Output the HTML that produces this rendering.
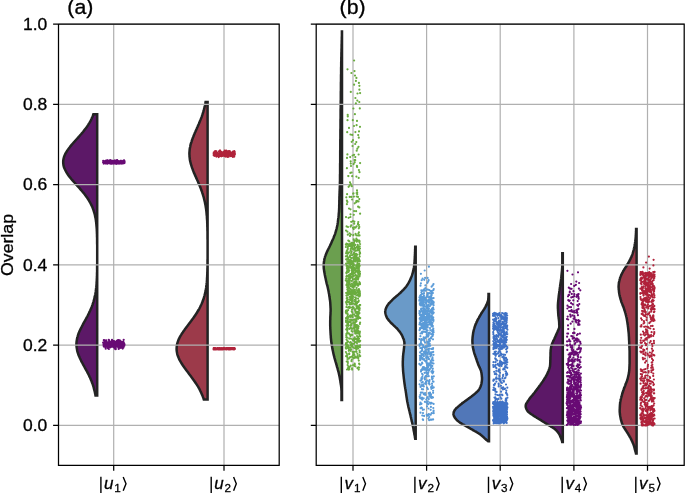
<!DOCTYPE html><html><head><meta charset="utf-8"><style>html,body{margin:0;padding:0;background:#fff}svg{display:block}</style></head><body><svg width="685" height="493" viewBox="0 0 685 493">
<rect width="685" height="493" fill="#fff"/>
<g stroke="#232323" stroke-width="2.5" stroke-linejoin="miter">
<path fill="#5c1867" d="M97.2,395.4 L95.5,395.4 L95.3,394.3 L95.0,393.1 L94.8,391.9 L94.5,390.7 L94.2,389.6 L93.9,388.4 L93.6,387.2 L93.2,386.0 L92.9,384.9 L92.5,383.7 L92.0,382.5 L91.6,381.3 L91.1,380.2 L90.6,379.0 L90.1,377.8 L89.5,376.6 L89.0,375.5 L88.4,374.3 L87.8,373.1 L87.2,371.9 L86.5,370.7 L85.9,369.6 L85.2,368.4 L84.6,367.2 L84.0,366.0 L83.3,364.9 L82.7,363.7 L82.1,362.5 L81.4,361.3 L80.9,360.2 L80.3,359.0 L79.7,357.8 L79.2,356.6 L78.7,355.5 L78.3,354.3 L77.9,353.1 L77.5,351.9 L77.2,350.7 L77.0,349.6 L76.8,348.4 L76.6,347.2 L76.5,346.0 L76.4,344.9 L76.4,343.7 L76.5,342.5 L76.6,341.3 L76.8,340.2 L77.0,339.0 L77.2,337.8 L77.6,336.6 L77.9,335.5 L78.3,334.3 L78.8,333.1 L79.2,331.9 L79.7,330.8 L80.3,329.6 L80.9,328.4 L81.5,327.2 L82.1,326.0 L82.7,324.9 L83.3,323.7 L84.0,322.5 L84.6,321.3 L85.3,320.2 L85.9,319.0 L86.5,317.8 L87.2,316.6 L87.8,315.5 L88.4,314.3 L89.0,313.1 L89.5,311.9 L90.1,310.8 L90.6,309.6 L91.1,308.4 L91.6,307.2 L92.0,306.1 L92.5,304.9 L92.9,303.7 L93.2,302.5 L93.6,301.3 L93.9,300.2 L94.3,299.0 L94.5,297.8 L94.8,296.6 L95.0,295.5 L95.3,294.3 L95.5,293.1 L95.7,291.9 L95.8,290.8 L96.0,289.6 L96.1,288.4 L96.3,287.2 L96.4,286.1 L96.5,284.9 L96.6,283.7 L96.6,282.5 L96.7,281.3 L96.8,280.2 L96.8,279.0 L96.9,277.8 L96.9,276.6 L97.0,275.5 L97.0,274.3 L97.0,273.1 L97.1,271.9 L97.1,270.8 L97.1,269.6 L97.1,268.4 L97.1,267.2 L97.1,266.1 L97.1,264.9 L97.2,263.7 L97.2,262.5 L97.2,261.4 L97.2,260.2 L97.2,259.0 L97.2,257.8 L97.2,256.6 L97.2,255.5 L97.2,254.3 L97.2,253.1 L97.2,251.9 L97.2,250.8 L97.2,249.6 L97.2,248.4 L97.2,247.2 L97.2,246.1 L97.2,244.9 L97.1,243.7 L97.1,242.5 L97.1,241.4 L97.1,240.2 L97.1,239.0 L97.1,237.8 L97.0,236.7 L97.0,235.5 L97.0,234.3 L96.9,233.1 L96.9,231.9 L96.8,230.8 L96.8,229.6 L96.7,228.4 L96.6,227.2 L96.5,226.1 L96.4,224.9 L96.3,223.7 L96.2,222.5 L96.0,221.4 L95.9,220.2 L95.7,219.0 L95.5,217.8 L95.2,216.7 L95.0,215.5 L94.7,214.3 L94.4,213.1 L94.0,211.9 L93.7,210.8 L93.3,209.6 L92.8,208.4 L92.4,207.2 L91.9,206.1 L91.3,204.9 L90.7,203.7 L90.1,202.5 L89.4,201.4 L88.7,200.2 L88.0,199.0 L87.2,197.8 L86.4,196.7 L85.5,195.5 L84.6,194.3 L83.7,193.1 L82.7,192.0 L81.7,190.8 L80.7,189.6 L79.7,188.4 L78.6,187.2 L77.6,186.1 L76.5,184.9 L75.5,183.7 L74.4,182.5 L73.4,181.4 L72.3,180.2 L71.3,179.0 L70.4,177.8 L69.4,176.7 L68.5,175.5 L67.7,174.3 L66.9,173.1 L66.2,172.0 L65.6,170.8 L65.0,169.6 L64.5,168.4 L64.0,167.3 L63.7,166.1 L63.4,164.9 L63.3,163.7 L63.2,162.5 L63.2,161.4 L63.3,160.2 L63.5,159.0 L63.8,157.8 L64.1,156.7 L64.6,155.5 L65.1,154.3 L65.7,153.1 L66.4,152.0 L67.1,150.8 L67.9,149.6 L68.8,148.4 L69.7,147.3 L70.6,146.1 L71.6,144.9 L72.6,143.7 L73.6,142.5 L74.7,141.4 L75.7,140.2 L76.8,139.0 L77.9,137.8 L78.9,136.7 L79.9,135.5 L81.0,134.3 L82.0,133.1 L83.0,132.0 L83.9,130.8 L84.8,129.6 L85.7,128.4 L86.6,127.3 L87.4,126.1 L88.2,124.9 L88.9,123.7 L89.6,122.6 L90.3,121.4 L90.9,120.2 L91.5,119.0 L92.0,117.8 L92.5,116.7 L93.0,115.5 L93.4,114.3 L97.2,114.3Z"/>
<path fill="#9c3a4a" d="M207.6,399.4 L203.8,399.4 L203.4,398.1 L202.9,396.9 L202.5,395.6 L201.9,394.4 L201.4,393.2 L200.8,391.9 L200.2,390.7 L199.6,389.4 L198.9,388.2 L198.2,386.9 L197.4,385.7 L196.6,384.4 L195.8,383.2 L195.0,382.0 L194.1,380.7 L193.2,379.5 L192.3,378.2 L191.4,377.0 L190.5,375.7 L189.5,374.5 L188.6,373.2 L187.7,372.0 L186.7,370.8 L185.8,369.5 L184.9,368.3 L184.0,367.0 L183.1,365.8 L182.3,364.5 L181.5,363.3 L180.8,362.0 L180.1,360.8 L179.4,359.6 L178.8,358.3 L178.3,357.1 L177.8,355.8 L177.4,354.6 L177.1,353.3 L176.9,352.1 L176.7,350.8 L176.6,349.6 L176.6,348.4 L176.7,347.1 L176.8,345.9 L177.0,344.6 L177.3,343.4 L177.7,342.1 L178.1,340.9 L178.6,339.6 L179.2,338.4 L179.8,337.1 L180.5,335.9 L181.3,334.7 L182.0,333.4 L182.9,332.2 L183.7,330.9 L184.6,329.7 L185.5,328.4 L186.4,327.2 L187.4,325.9 L188.3,324.7 L189.2,323.5 L190.2,322.2 L191.1,321.0 L192.0,319.7 L193.0,318.5 L193.9,317.2 L194.7,316.0 L195.6,314.7 L196.4,313.5 L197.2,312.3 L197.9,311.0 L198.7,309.8 L199.4,308.5 L200.0,307.3 L200.6,306.0 L201.2,304.8 L201.8,303.5 L202.3,302.3 L202.8,301.1 L203.2,299.8 L203.7,298.6 L204.0,297.3 L204.4,296.1 L204.7,294.8 L205.0,293.6 L205.3,292.3 L205.6,291.1 L205.8,289.9 L206.0,288.6 L206.2,287.4 L206.3,286.1 L206.5,284.9 L206.6,283.6 L206.8,282.4 L206.9,281.1 L207.0,279.9 L207.0,278.7 L207.1,277.4 L207.2,276.2 L207.2,274.9 L207.3,273.7 L207.3,272.4 L207.4,271.2 L207.4,269.9 L207.4,268.7 L207.5,267.5 L207.5,266.2 L207.5,265.0 L207.5,263.7 L207.5,262.5 L207.5,261.2 L207.5,260.0 L207.6,258.7 L207.6,257.5 L207.6,256.3 L207.6,255.0 L207.6,253.8 L207.6,252.5 L207.6,251.3 L207.6,250.0 L207.6,248.8 L207.6,247.5 L207.6,246.3 L207.6,245.1 L207.6,243.8 L207.6,242.6 L207.6,241.3 L207.6,240.1 L207.5,238.8 L207.5,237.6 L207.5,236.3 L207.5,235.1 L207.5,233.9 L207.5,232.6 L207.5,231.4 L207.4,230.1 L207.4,228.9 L207.4,227.6 L207.3,226.4 L207.3,225.1 L207.3,223.9 L207.2,222.7 L207.2,221.4 L207.1,220.2 L207.0,218.9 L206.9,217.7 L206.9,216.4 L206.7,215.2 L206.6,213.9 L206.5,212.7 L206.4,211.5 L206.2,210.2 L206.1,209.0 L205.9,207.7 L205.7,206.5 L205.5,205.2 L205.2,204.0 L205.0,202.7 L204.7,201.5 L204.4,200.3 L204.1,199.0 L203.8,197.8 L203.5,196.5 L203.1,195.3 L202.7,194.0 L202.3,192.8 L201.9,191.5 L201.4,190.3 L201.0,189.1 L200.5,187.8 L200.0,186.6 L199.5,185.3 L198.9,184.1 L198.4,182.8 L197.9,181.6 L197.3,180.3 L196.8,179.1 L196.2,177.9 L195.7,176.6 L195.1,175.4 L194.6,174.1 L194.0,172.9 L193.5,171.6 L193.0,170.4 L192.6,169.1 L192.1,167.9 L191.7,166.7 L191.3,165.4 L190.9,164.2 L190.6,162.9 L190.3,161.7 L190.0,160.4 L189.8,159.2 L189.7,157.9 L189.5,156.7 L189.5,155.5 L189.4,154.2 L189.4,153.0 L189.5,151.7 L189.6,150.5 L189.7,149.2 L189.9,148.0 L190.2,146.7 L190.4,145.5 L190.7,144.2 L191.1,143.0 L191.5,141.8 L191.9,140.5 L192.3,139.3 L192.8,138.0 L193.3,136.8 L193.8,135.5 L194.3,134.3 L194.8,133.0 L195.4,131.8 L195.9,130.6 L196.5,129.3 L197.0,128.1 L197.6,126.8 L198.1,125.6 L198.7,124.3 L199.2,123.1 L199.7,121.8 L200.2,120.6 L200.7,119.4 L201.2,118.1 L201.7,116.9 L202.1,115.6 L202.5,114.4 L202.9,113.1 L203.3,111.9 L203.6,110.6 L204.0,109.4 L204.3,108.2 L204.6,106.9 L204.9,105.7 L205.1,104.4 L205.4,103.2 L205.6,101.9 L207.6,101.9Z"/>
<path fill="#6b9f4f" d="M342.0,400.1 L341.5,400.1 L341.5,399.1 L341.5,398.2 L341.5,397.3 L341.5,396.4 L341.5,395.4 L341.5,394.5 L341.5,393.6 L341.5,392.7 L341.5,391.7 L341.5,390.8 L341.4,389.9 L341.4,389.0 L341.3,388.0 L341.2,387.1 L341.1,386.2 L341.0,385.3 L340.8,384.3 L340.7,383.4 L340.5,382.5 L340.4,381.6 L340.3,380.7 L340.1,379.7 L339.9,378.8 L339.8,377.9 L339.6,377.0 L339.4,376.0 L339.2,375.1 L339.0,374.2 L338.8,373.3 L338.6,372.3 L338.3,371.4 L338.1,370.5 L337.8,369.6 L337.6,368.6 L337.3,367.7 L337.0,366.8 L336.8,365.9 L336.5,364.9 L336.2,364.0 L336.0,363.1 L335.7,362.2 L335.4,361.3 L335.2,360.3 L334.9,359.4 L334.7,358.5 L334.4,357.6 L334.2,356.6 L333.9,355.7 L333.7,354.8 L333.5,353.9 L333.3,352.9 L333.1,352.0 L332.9,351.1 L332.7,350.2 L332.5,349.2 L332.3,348.3 L332.2,347.4 L332.0,346.5 L331.9,345.5 L331.7,344.6 L331.6,343.7 L331.4,342.8 L331.3,341.8 L331.2,340.9 L331.1,340.0 L331.0,339.1 L330.9,338.2 L330.8,337.2 L330.8,336.3 L330.7,335.4 L330.6,334.5 L330.6,333.5 L330.5,332.6 L330.5,331.7 L330.4,330.8 L330.4,329.8 L330.3,328.9 L330.3,328.0 L330.3,327.1 L330.2,326.1 L330.2,325.2 L330.2,324.3 L330.2,323.4 L330.2,322.4 L330.2,321.5 L330.2,320.6 L330.3,319.7 L330.3,318.8 L330.3,317.8 L330.3,316.9 L330.4,316.0 L330.4,315.1 L330.5,314.1 L330.5,313.2 L330.5,312.3 L330.6,311.4 L330.6,310.4 L330.6,309.5 L330.6,308.6 L330.5,307.7 L330.5,306.7 L330.4,305.8 L330.4,304.9 L330.3,304.0 L330.3,303.0 L330.2,302.1 L330.1,301.2 L330.0,300.3 L329.8,299.3 L329.7,298.4 L329.6,297.5 L329.4,296.6 L329.3,295.7 L329.2,294.7 L329.0,293.8 L328.8,292.9 L328.7,292.0 L328.5,291.0 L328.3,290.1 L328.1,289.2 L327.9,288.3 L327.7,287.3 L327.5,286.4 L327.2,285.5 L327.0,284.6 L326.7,283.6 L326.5,282.7 L326.3,281.8 L326.1,280.9 L325.9,279.9 L325.7,279.0 L325.5,278.1 L325.3,277.2 L325.1,276.3 L324.9,275.3 L324.7,274.4 L324.6,273.5 L324.4,272.6 L324.2,271.6 L324.1,270.7 L324.0,269.8 L323.8,268.9 L323.8,267.9 L323.7,267.0 L323.7,266.1 L323.7,265.2 L323.7,264.2 L323.8,263.3 L323.9,262.4 L324.0,261.5 L324.2,260.5 L324.3,259.6 L324.5,258.7 L324.8,257.8 L325.0,256.8 L325.4,255.9 L325.7,255.0 L326.1,254.1 L326.4,253.2 L326.8,252.2 L327.2,251.3 L327.7,250.4 L328.1,249.5 L328.6,248.5 L329.1,247.6 L329.5,246.7 L330.0,245.8 L330.4,244.8 L330.9,243.9 L331.3,243.0 L331.7,242.1 L332.1,241.1 L332.5,240.2 L332.9,239.3 L333.3,238.4 L333.7,237.4 L334.0,236.5 L334.4,235.6 L334.8,234.7 L335.1,233.8 L335.4,232.8 L335.7,231.9 L336.0,231.0 L336.2,230.1 L336.5,229.1 L336.7,228.2 L336.9,227.3 L337.1,226.4 L337.3,225.4 L337.5,224.5 L337.6,223.6 L337.8,222.7 L337.9,221.7 L338.0,220.8 L338.1,219.9 L338.2,219.0 L338.4,218.0 L338.5,217.1 L338.6,216.2 L338.7,215.3 L338.7,214.3 L338.8,213.4 L338.9,212.5 L339.0,211.6 L339.0,210.7 L339.1,209.7 L339.1,208.8 L339.2,207.9 L339.2,207.0 L339.2,206.0 L339.2,205.1 L339.3,204.2 L339.3,203.3 L339.3,202.3 L339.3,201.4 L339.3,200.5 L339.4,199.6 L339.4,198.6 L339.4,197.7 L339.4,196.8 L339.5,195.9 L339.5,194.9 L339.5,194.0 L339.6,193.1 L339.6,192.2 L339.6,191.3 L339.7,190.3 L339.7,189.4 L339.8,188.5 L339.8,187.6 L339.8,186.6 L339.9,185.7 L339.9,184.8 L339.9,183.9 L339.9,182.9 L339.9,182.0 L340.0,181.1 L340.0,180.2 L340.0,179.2 L340.0,178.3 L340.0,177.4 L340.0,176.5 L340.0,175.5 L340.0,174.6 L340.1,173.7 L340.1,172.8 L340.1,171.8 L340.1,170.9 L340.1,170.0 L340.1,169.1 L340.1,168.2 L340.1,167.2 L340.1,166.3 L340.1,165.4 L340.1,164.5 L340.1,163.5 L340.2,162.6 L340.2,161.7 L340.2,160.8 L340.2,159.8 L340.2,158.9 L340.2,158.0 L340.2,157.1 L340.2,156.1 L340.2,155.2 L340.2,154.3 L340.2,153.4 L340.2,152.4 L340.2,151.5 L340.2,150.6 L340.3,149.7 L340.3,148.8 L340.3,147.8 L340.3,146.9 L340.3,146.0 L340.3,145.1 L340.3,144.1 L340.3,143.2 L340.3,142.3 L340.3,141.4 L340.3,140.4 L340.3,139.5 L340.4,138.6 L340.4,137.7 L340.4,136.7 L340.4,135.8 L340.4,134.9 L340.4,134.0 L340.4,133.0 L340.4,132.1 L340.4,131.2 L340.4,130.3 L340.4,129.3 L340.5,128.4 L340.5,127.5 L340.5,126.6 L340.5,125.7 L340.5,124.7 L340.5,123.8 L340.5,122.9 L340.5,122.0 L340.5,121.0 L340.5,120.1 L340.5,119.2 L340.6,118.3 L340.6,117.3 L340.6,116.4 L340.6,115.5 L340.6,114.6 L340.6,113.6 L340.6,112.7 L340.6,111.8 L340.6,110.9 L340.6,109.9 L340.6,109.0 L340.7,108.1 L340.7,107.2 L340.7,106.3 L340.7,105.3 L340.7,104.4 L340.7,103.5 L340.7,102.6 L340.7,101.6 L340.7,100.7 L340.8,99.8 L340.8,98.9 L340.8,97.9 L340.8,97.0 L340.8,96.1 L340.8,95.2 L340.8,94.2 L340.8,93.3 L340.8,92.4 L340.8,91.5 L340.9,90.5 L340.9,89.6 L340.9,88.7 L340.9,87.8 L340.9,86.8 L340.9,85.9 L340.9,85.0 L340.9,84.1 L340.9,83.2 L340.9,82.2 L341.0,81.3 L341.0,80.4 L341.0,79.5 L341.0,78.5 L341.0,77.6 L341.0,76.7 L341.0,75.8 L341.0,74.8 L341.1,73.9 L341.1,73.0 L341.1,72.1 L341.1,71.1 L341.1,70.2 L341.1,69.3 L341.1,68.4 L341.1,67.4 L341.2,66.5 L341.2,65.6 L341.2,64.7 L341.2,63.7 L341.2,62.8 L341.2,61.9 L341.3,61.0 L341.3,60.1 L341.3,59.1 L341.3,58.2 L341.3,57.3 L341.4,56.4 L341.4,55.4 L341.4,54.5 L341.4,53.6 L341.4,52.7 L341.5,51.7 L341.5,50.8 L341.5,49.9 L341.5,49.0 L341.6,48.0 L341.6,47.1 L341.6,46.2 L341.6,45.3 L341.6,44.3 L341.7,43.4 L341.7,42.5 L341.7,41.6 L341.7,40.7 L341.8,39.7 L341.8,38.8 L341.8,37.9 L341.8,37.0 L341.9,36.0 L341.9,35.1 L341.9,34.2 L341.9,33.3 L341.9,32.3 L341.9,31.4 L342.0,31.4Z"/>
<path fill="#6a9ac8" d="M415.7,438.7 L415.2,438.7 L415.1,438.2 L415.0,437.7 L414.9,437.2 L414.9,436.8 L414.8,436.3 L414.7,435.8 L414.6,435.3 L414.5,434.8 L414.4,434.4 L414.3,433.9 L414.3,433.4 L414.2,432.9 L414.1,432.4 L414.0,432.0 L413.9,431.5 L413.8,431.0 L413.7,430.5 L413.6,430.0 L413.5,429.5 L413.5,429.1 L413.4,428.6 L413.3,428.1 L413.2,427.6 L413.1,427.1 L413.0,426.7 L412.9,426.2 L412.8,425.7 L412.7,425.2 L412.6,424.7 L412.5,424.3 L412.4,423.8 L412.3,423.3 L412.2,422.8 L412.1,422.3 L411.9,421.9 L411.8,421.4 L411.7,420.9 L411.6,420.4 L411.5,419.9 L411.4,419.4 L411.3,419.0 L411.2,418.5 L411.1,418.0 L410.9,417.5 L410.8,417.0 L410.7,416.6 L410.6,416.1 L410.5,415.6 L410.4,415.1 L410.3,414.6 L410.2,414.2 L410.0,413.7 L409.9,413.2 L409.8,412.7 L409.7,412.2 L409.6,411.8 L409.5,411.3 L409.4,410.8 L409.2,410.3 L409.1,409.8 L409.0,409.3 L408.9,408.9 L408.8,408.4 L408.6,407.9 L408.5,407.4 L408.4,406.9 L408.3,406.5 L408.2,406.0 L408.1,405.5 L408.0,405.0 L407.9,404.5 L407.8,404.1 L407.7,403.6 L407.6,403.1 L407.5,402.6 L407.4,402.1 L407.3,401.7 L407.2,401.2 L407.1,400.7 L407.1,400.2 L407.0,399.7 L406.9,399.2 L406.8,398.8 L406.8,398.3 L406.7,397.8 L406.6,397.3 L406.5,396.8 L406.5,396.4 L406.4,395.9 L406.3,395.4 L406.3,394.9 L406.2,394.4 L406.1,394.0 L406.1,393.5 L406.0,393.0 L405.9,392.5 L405.8,392.0 L405.8,391.6 L405.7,391.1 L405.6,390.6 L405.5,390.1 L405.5,389.6 L405.4,389.1 L405.3,388.7 L405.2,388.2 L405.1,387.7 L405.1,387.2 L405.0,386.7 L404.9,386.3 L404.8,385.8 L404.8,385.3 L404.7,384.8 L404.6,384.3 L404.6,383.9 L404.5,383.4 L404.4,382.9 L404.4,382.4 L404.3,381.9 L404.2,381.5 L404.2,381.0 L404.1,380.5 L404.1,380.0 L404.0,379.5 L403.9,379.0 L403.9,378.6 L403.8,378.1 L403.8,377.6 L403.7,377.1 L403.7,376.6 L403.6,376.2 L403.6,375.7 L403.5,375.2 L403.5,374.7 L403.4,374.2 L403.4,373.8 L403.3,373.3 L403.3,372.8 L403.2,372.3 L403.2,371.8 L403.1,371.4 L403.1,370.9 L403.1,370.4 L403.0,369.9 L403.0,369.4 L403.0,368.9 L403.0,368.5 L402.9,368.0 L402.9,367.5 L402.9,367.0 L402.9,366.5 L402.8,366.1 L402.8,365.6 L402.8,365.1 L402.8,364.6 L402.8,364.1 L402.8,363.7 L402.8,363.2 L402.8,362.7 L402.8,362.2 L402.8,361.7 L402.8,361.3 L402.8,360.8 L402.9,360.3 L402.9,359.8 L402.9,359.3 L402.9,358.8 L402.9,358.4 L403.0,357.9 L403.0,357.4 L403.0,356.9 L403.0,356.4 L403.1,356.0 L403.1,355.5 L403.2,355.0 L403.2,354.5 L403.3,354.0 L403.3,353.6 L403.4,353.1 L403.5,352.6 L403.5,352.1 L403.6,351.6 L403.7,351.2 L403.7,350.7 L403.8,350.2 L403.8,349.7 L403.9,349.2 L403.9,348.7 L404.0,348.3 L404.0,347.8 L404.1,347.3 L404.1,346.8 L404.2,346.3 L404.2,345.9 L404.3,345.4 L404.3,344.9 L404.3,344.4 L404.4,343.9 L404.4,343.5 L404.4,343.0 L404.4,342.5 L404.3,342.0 L404.2,341.5 L404.2,341.1 L404.0,340.6 L403.9,340.1 L403.8,339.6 L403.6,339.1 L403.4,338.6 L403.2,338.2 L403.0,337.7 L402.8,337.2 L402.6,336.7 L402.4,336.2 L402.2,335.8 L402.0,335.3 L401.7,334.8 L401.4,334.3 L401.1,333.8 L400.8,333.4 L400.5,332.9 L400.2,332.4 L399.8,331.9 L399.4,331.4 L399.0,331.0 L398.6,330.5 L398.3,330.0 L397.8,329.5 L397.4,329.0 L397.0,328.5 L396.5,328.1 L396.1,327.6 L395.5,327.1 L395.0,326.6 L394.5,326.1 L394.0,325.7 L393.4,325.2 L392.9,324.7 L392.4,324.2 L391.9,323.7 L391.4,323.3 L391.0,322.8 L390.5,322.3 L390.1,321.8 L389.7,321.3 L389.2,320.9 L388.8,320.4 L388.4,319.9 L388.0,319.4 L387.7,318.9 L387.3,318.4 L387.0,318.0 L386.8,317.5 L386.6,317.0 L386.4,316.5 L386.2,316.0 L386.0,315.6 L385.9,315.1 L385.7,314.6 L385.6,314.1 L385.5,313.6 L385.4,313.2 L385.3,312.7 L385.3,312.2 L385.2,311.7 L385.2,311.2 L385.3,310.8 L385.4,310.3 L385.5,309.8 L385.6,309.3 L385.8,308.8 L386.0,308.3 L386.2,307.9 L386.4,307.4 L386.6,306.9 L386.9,306.4 L387.1,305.9 L387.4,305.5 L387.7,305.0 L388.1,304.5 L388.4,304.0 L388.8,303.5 L389.3,303.1 L389.7,302.6 L390.2,302.1 L390.6,301.6 L391.1,301.1 L391.6,300.7 L392.1,300.2 L392.6,299.7 L393.1,299.2 L393.6,298.7 L394.1,298.2 L394.6,297.8 L395.2,297.3 L395.7,296.8 L396.3,296.3 L396.9,295.8 L397.4,295.4 L398.0,294.9 L398.6,294.4 L399.1,293.9 L399.6,293.4 L400.2,293.0 L400.7,292.5 L401.2,292.0 L401.6,291.5 L402.1,291.0 L402.6,290.6 L403.1,290.1 L403.5,289.6 L404.0,289.1 L404.4,288.6 L404.9,288.1 L405.3,287.7 L405.7,287.2 L406.1,286.7 L406.4,286.2 L406.8,285.7 L407.1,285.3 L407.4,284.8 L407.7,284.3 L408.0,283.8 L408.3,283.3 L408.6,282.9 L408.9,282.4 L409.1,281.9 L409.4,281.4 L409.6,280.9 L409.9,280.5 L410.1,280.0 L410.3,279.5 L410.5,279.0 L410.7,278.5 L410.9,278.0 L411.1,277.6 L411.3,277.1 L411.5,276.6 L411.7,276.1 L411.8,275.6 L412.0,275.2 L412.2,274.7 L412.3,274.2 L412.5,273.7 L412.6,273.2 L412.8,272.8 L412.9,272.3 L413.0,271.8 L413.1,271.3 L413.2,270.8 L413.3,270.4 L413.4,269.9 L413.6,269.4 L413.6,268.9 L413.7,268.4 L413.8,268.0 L413.9,267.5 L414.0,267.0 L414.1,266.5 L414.1,266.0 L414.2,265.5 L414.3,265.1 L414.3,264.6 L414.4,264.1 L414.4,263.6 L414.4,263.1 L414.5,262.7 L414.5,262.2 L414.6,261.7 L414.6,261.2 L414.6,260.7 L414.6,260.3 L414.7,259.8 L414.7,259.3 L414.7,258.8 L414.8,258.3 L414.8,257.9 L414.8,257.4 L414.8,256.9 L414.8,256.4 L414.9,255.9 L414.9,255.4 L414.9,255.0 L414.9,254.5 L415.0,254.0 L415.0,253.5 L415.0,253.0 L415.0,252.6 L415.0,252.1 L415.1,251.6 L415.1,251.1 L415.1,250.6 L415.1,250.2 L415.1,249.7 L415.1,249.2 L415.2,248.7 L415.2,248.2 L415.2,247.8 L415.2,247.3 L415.2,246.8 L415.7,246.8Z"/>
<path fill="#5177b8" d="M489.0,441.3 L488.2,441.3 L487.8,441.0 L487.4,440.6 L486.9,440.2 L486.4,439.9 L486.0,439.5 L485.5,439.1 L485.1,438.7 L484.7,438.4 L484.4,438.0 L484.0,437.6 L483.6,437.3 L483.2,436.9 L482.8,436.5 L482.4,436.2 L482.0,435.8 L481.6,435.4 L481.1,435.1 L480.6,434.7 L480.1,434.3 L479.6,433.9 L479.0,433.6 L478.4,433.2 L477.8,432.8 L477.2,432.5 L476.6,432.1 L475.9,431.7 L475.3,431.4 L474.6,431.0 L474.0,430.6 L473.3,430.3 L472.7,429.9 L472.1,429.5 L471.4,429.1 L470.8,428.8 L470.1,428.4 L469.5,428.0 L468.8,427.7 L468.2,427.3 L467.5,426.9 L466.8,426.6 L466.2,426.2 L465.5,425.8 L464.9,425.5 L464.2,425.1 L463.6,424.7 L462.9,424.4 L462.2,424.0 L461.6,423.6 L461.0,423.2 L460.4,422.9 L459.8,422.5 L459.3,422.1 L458.9,421.8 L458.4,421.4 L458.0,421.0 L457.5,420.7 L457.1,420.3 L456.7,419.9 L456.4,419.6 L456.0,419.2 L455.7,418.8 L455.4,418.4 L455.1,418.1 L454.9,417.7 L454.6,417.3 L454.5,417.0 L454.3,416.6 L454.1,416.2 L453.9,415.9 L453.8,415.5 L453.7,415.1 L453.6,414.8 L453.5,414.4 L453.4,414.0 L453.4,413.6 L453.5,413.3 L453.6,412.9 L453.7,412.5 L453.8,412.2 L453.9,411.8 L454.1,411.4 L454.3,411.1 L454.4,410.7 L454.6,410.3 L454.9,410.0 L455.1,409.6 L455.4,409.2 L455.7,408.9 L456.1,408.5 L456.4,408.1 L456.8,407.7 L457.2,407.4 L457.7,407.0 L458.1,406.6 L458.5,406.3 L459.0,405.9 L459.4,405.5 L459.8,405.2 L460.3,404.8 L460.7,404.4 L461.2,404.1 L461.7,403.7 L462.1,403.3 L462.6,402.9 L463.1,402.6 L463.6,402.2 L464.1,401.8 L464.7,401.5 L465.2,401.1 L465.7,400.7 L466.2,400.4 L466.7,400.0 L467.2,399.6 L467.7,399.3 L468.2,398.9 L468.7,398.5 L469.2,398.1 L469.7,397.8 L470.2,397.4 L470.7,397.0 L471.2,396.7 L471.7,396.3 L472.2,395.9 L472.7,395.6 L473.1,395.2 L473.6,394.8 L474.0,394.5 L474.4,394.1 L474.9,393.7 L475.3,393.4 L475.7,393.0 L476.2,392.6 L476.6,392.2 L477.0,391.9 L477.3,391.5 L477.7,391.1 L478.0,390.8 L478.4,390.4 L478.6,390.0 L478.9,389.7 L479.1,389.3 L479.4,388.9 L479.6,388.6 L479.8,388.2 L480.0,387.8 L480.1,387.4 L480.3,387.1 L480.5,386.7 L480.6,386.3 L480.8,386.0 L480.9,385.6 L481.0,385.2 L481.1,384.9 L481.2,384.5 L481.3,384.1 L481.4,383.8 L481.5,383.4 L481.5,383.0 L481.6,382.6 L481.7,382.3 L481.7,381.9 L481.8,381.5 L481.8,381.2 L481.9,380.8 L481.9,380.4 L481.9,380.1 L482.0,379.7 L482.0,379.3 L482.0,379.0 L482.0,378.6 L482.0,378.2 L482.0,377.8 L482.0,377.5 L481.9,377.1 L481.9,376.7 L481.9,376.4 L481.8,376.0 L481.8,375.6 L481.8,375.3 L481.7,374.9 L481.7,374.5 L481.6,374.2 L481.6,373.8 L481.5,373.4 L481.5,373.1 L481.4,372.7 L481.3,372.3 L481.3,371.9 L481.2,371.6 L481.1,371.2 L481.0,370.8 L480.9,370.5 L480.7,370.1 L480.6,369.7 L480.4,369.4 L480.3,369.0 L480.1,368.6 L479.9,368.3 L479.7,367.9 L479.6,367.5 L479.4,367.1 L479.2,366.8 L479.0,366.4 L478.9,366.0 L478.7,365.7 L478.5,365.3 L478.4,364.9 L478.3,364.6 L478.1,364.2 L478.0,363.8 L477.9,363.5 L477.7,363.1 L477.6,362.7 L477.5,362.3 L477.3,362.0 L477.2,361.6 L477.1,361.2 L476.9,360.9 L476.8,360.5 L476.7,360.1 L476.6,359.8 L476.4,359.4 L476.3,359.0 L476.2,358.7 L476.1,358.3 L475.9,357.9 L475.8,357.6 L475.7,357.2 L475.6,356.8 L475.4,356.4 L475.3,356.1 L475.2,355.7 L475.0,355.3 L474.9,355.0 L474.8,354.6 L474.7,354.2 L474.5,353.9 L474.4,353.5 L474.3,353.1 L474.2,352.8 L474.1,352.4 L474.0,352.0 L473.9,351.6 L473.8,351.3 L473.7,350.9 L473.6,350.5 L473.5,350.2 L473.4,349.8 L473.3,349.4 L473.3,349.1 L473.2,348.7 L473.1,348.3 L473.0,348.0 L472.9,347.6 L472.9,347.2 L472.8,346.8 L472.8,346.5 L472.7,346.1 L472.7,345.7 L472.6,345.4 L472.6,345.0 L472.6,344.6 L472.5,344.3 L472.5,343.9 L472.5,343.5 L472.5,343.2 L472.5,342.8 L472.4,342.4 L472.4,342.1 L472.4,341.7 L472.4,341.3 L472.4,340.9 L472.4,340.6 L472.4,340.2 L472.4,339.8 L472.4,339.5 L472.5,339.1 L472.5,338.7 L472.5,338.4 L472.5,338.0 L472.6,337.6 L472.6,337.3 L472.6,336.9 L472.7,336.5 L472.7,336.1 L472.8,335.8 L472.8,335.4 L472.9,335.0 L472.9,334.7 L473.0,334.3 L473.0,333.9 L473.1,333.6 L473.1,333.2 L473.2,332.8 L473.2,332.5 L473.3,332.1 L473.4,331.7 L473.5,331.3 L473.6,331.0 L473.6,330.6 L473.7,330.2 L473.8,329.9 L473.9,329.5 L474.0,329.1 L474.1,328.8 L474.2,328.4 L474.4,328.0 L474.5,327.7 L474.6,327.3 L474.7,326.9 L474.8,326.5 L474.9,326.2 L475.1,325.8 L475.2,325.4 L475.3,325.1 L475.5,324.7 L475.6,324.3 L475.8,324.0 L476.0,323.6 L476.1,323.2 L476.3,322.9 L476.5,322.5 L476.6,322.1 L476.8,321.8 L477.0,321.4 L477.2,321.0 L477.3,320.6 L477.5,320.3 L477.7,319.9 L477.9,319.5 L478.1,319.2 L478.3,318.8 L478.5,318.4 L478.7,318.1 L478.9,317.7 L479.1,317.3 L479.3,317.0 L479.5,316.6 L479.7,316.2 L479.9,315.8 L480.2,315.5 L480.4,315.1 L480.6,314.7 L480.8,314.4 L481.0,314.0 L481.3,313.6 L481.5,313.3 L481.7,312.9 L481.9,312.5 L482.2,312.2 L482.4,311.8 L482.6,311.4 L482.9,311.0 L483.1,310.7 L483.4,310.3 L483.6,309.9 L483.9,309.6 L484.1,309.2 L484.4,308.8 L484.6,308.5 L484.8,308.1 L485.0,307.7 L485.2,307.4 L485.5,307.0 L485.6,306.6 L485.8,306.3 L486.0,305.9 L486.2,305.5 L486.3,305.1 L486.5,304.8 L486.7,304.4 L486.8,304.0 L487.0,303.7 L487.1,303.3 L487.3,302.9 L487.4,302.6 L487.6,302.2 L487.7,301.8 L487.8,301.5 L487.9,301.1 L488.0,300.7 L488.1,300.3 L488.2,300.0 L488.2,299.6 L488.3,299.2 L488.3,298.9 L488.3,298.5 L488.4,298.1 L488.4,297.8 L488.4,297.4 L488.4,297.0 L488.4,296.7 L488.5,296.3 L488.5,295.9 L488.5,295.5 L488.5,295.2 L488.5,294.8 L488.5,294.4 L488.5,294.1 L489.0,294.1Z"/>
<path fill="#5c1867" d="M562.8,441.9 L562.2,441.9 L562.1,441.4 L562.0,440.9 L561.9,440.5 L561.7,440.0 L561.5,439.5 L561.4,439.1 L561.2,438.6 L561.0,438.1 L560.8,437.6 L560.6,437.2 L560.4,436.7 L560.2,436.2 L560.0,435.7 L559.8,435.3 L559.6,434.8 L559.3,434.3 L559.0,433.9 L558.7,433.4 L558.4,432.9 L558.0,432.4 L557.7,432.0 L557.3,431.5 L556.8,431.0 L556.4,430.5 L555.9,430.1 L555.4,429.6 L554.9,429.1 L554.3,428.6 L553.6,428.2 L552.9,427.7 L552.1,427.2 L551.3,426.8 L550.5,426.3 L549.7,425.8 L548.9,425.3 L548.2,424.9 L547.4,424.4 L546.7,423.9 L545.9,423.4 L545.2,423.0 L544.5,422.5 L543.8,422.0 L543.0,421.6 L542.3,421.1 L541.5,420.6 L540.8,420.1 L540.0,419.7 L539.2,419.2 L538.4,418.7 L537.7,418.2 L536.9,417.8 L536.1,417.3 L535.4,416.8 L534.6,416.4 L533.9,415.9 L533.2,415.4 L532.5,414.9 L531.7,414.5 L531.0,414.0 L530.3,413.5 L529.7,413.0 L529.0,412.6 L528.5,412.1 L528.0,411.6 L527.6,411.2 L527.3,410.7 L527.0,410.2 L526.7,409.7 L526.5,409.3 L526.3,408.8 L526.1,408.3 L526.0,407.8 L525.8,407.4 L525.7,406.9 L525.7,406.4 L525.7,405.9 L525.7,405.5 L525.8,405.0 L525.9,404.5 L526.1,404.1 L526.3,403.6 L526.6,403.1 L526.9,402.6 L527.2,402.2 L527.5,401.7 L527.8,401.2 L528.1,400.7 L528.5,400.3 L528.8,399.8 L529.1,399.3 L529.4,398.9 L529.8,398.4 L530.1,397.9 L530.5,397.4 L530.9,397.0 L531.3,396.5 L531.7,396.0 L532.1,395.5 L532.5,395.1 L532.9,394.6 L533.3,394.1 L533.7,393.7 L534.1,393.2 L534.4,392.7 L534.8,392.2 L535.1,391.8 L535.5,391.3 L535.9,390.8 L536.2,390.3 L536.6,389.9 L536.9,389.4 L537.3,388.9 L537.6,388.5 L538.0,388.0 L538.3,387.5 L538.7,387.0 L539.0,386.6 L539.4,386.1 L539.7,385.6 L540.1,385.1 L540.4,384.7 L540.7,384.2 L541.1,383.7 L541.4,383.2 L541.8,382.8 L542.1,382.3 L542.5,381.8 L542.8,381.4 L543.1,380.9 L543.4,380.4 L543.7,379.9 L544.0,379.5 L544.3,379.0 L544.6,378.5 L544.9,378.0 L545.2,377.6 L545.5,377.1 L545.8,376.6 L546.0,376.2 L546.3,375.7 L546.6,375.2 L546.8,374.7 L547.1,374.3 L547.3,373.8 L547.5,373.3 L547.7,372.8 L547.9,372.4 L548.1,371.9 L548.3,371.4 L548.5,371.0 L548.7,370.5 L548.9,370.0 L549.0,369.5 L549.2,369.1 L549.4,368.6 L549.5,368.1 L549.6,367.6 L549.8,367.2 L549.9,366.7 L550.0,366.2 L550.0,365.8 L550.1,365.3 L550.1,364.8 L550.2,364.3 L550.2,363.9 L550.2,363.4 L550.2,362.9 L550.3,362.4 L550.3,362.0 L550.3,361.5 L550.3,361.0 L550.3,360.5 L550.3,360.1 L550.4,359.6 L550.4,359.1 L550.4,358.7 L550.4,358.2 L550.4,357.7 L550.4,357.2 L550.4,356.8 L550.5,356.3 L550.5,355.8 L550.5,355.3 L550.5,354.9 L550.5,354.4 L550.5,353.9 L550.5,353.5 L550.5,353.0 L550.5,352.5 L550.6,352.0 L550.6,351.6 L550.6,351.1 L550.6,350.6 L550.7,350.1 L550.7,349.7 L550.8,349.2 L550.9,348.7 L550.9,348.3 L551.0,347.8 L551.1,347.3 L551.2,346.8 L551.3,346.4 L551.4,345.9 L551.5,345.4 L551.7,344.9 L551.8,344.5 L552.0,344.0 L552.2,343.5 L552.4,343.1 L552.6,342.6 L552.8,342.1 L553.0,341.6 L553.2,341.2 L553.5,340.7 L553.7,340.2 L553.9,339.7 L554.1,339.3 L554.4,338.8 L554.6,338.3 L554.8,337.9 L555.0,337.4 L555.2,336.9 L555.4,336.4 L555.6,336.0 L555.9,335.5 L556.1,335.0 L556.3,334.5 L556.5,334.1 L556.7,333.6 L556.9,333.1 L557.1,332.6 L557.3,332.2 L557.5,331.7 L557.7,331.2 L558.0,330.8 L558.2,330.3 L558.4,329.8 L558.6,329.3 L558.8,328.9 L559.0,328.4 L559.1,327.9 L559.2,327.4 L559.3,327.0 L559.3,326.5 L559.3,326.0 L559.3,325.6 L559.3,325.1 L559.2,324.6 L559.2,324.1 L559.2,323.7 L559.2,323.2 L559.2,322.7 L559.1,322.2 L559.1,321.8 L559.1,321.3 L559.0,320.8 L559.0,320.4 L558.9,319.9 L558.9,319.4 L558.8,318.9 L558.7,318.5 L558.7,318.0 L558.6,317.5 L558.6,317.0 L558.5,316.6 L558.4,316.1 L558.4,315.6 L558.3,315.2 L558.3,314.7 L558.3,314.2 L558.2,313.7 L558.2,313.3 L558.2,312.8 L558.1,312.3 L558.1,311.8 L558.1,311.4 L558.1,310.9 L558.0,310.4 L558.0,309.9 L558.0,309.5 L558.0,309.0 L557.9,308.5 L557.9,308.1 L557.9,307.6 L557.9,307.1 L557.9,306.6 L557.9,306.2 L557.9,305.7 L557.9,305.2 L557.9,304.7 L558.0,304.3 L558.0,303.8 L558.0,303.3 L558.0,302.9 L558.1,302.4 L558.1,301.9 L558.2,301.4 L558.2,301.0 L558.3,300.5 L558.3,300.0 L558.4,299.5 L558.4,299.1 L558.5,298.6 L558.5,298.1 L558.6,297.7 L558.6,297.2 L558.7,296.7 L558.7,296.2 L558.8,295.8 L558.8,295.3 L558.9,294.8 L559.0,294.3 L559.0,293.9 L559.1,293.4 L559.2,292.9 L559.2,292.5 L559.3,292.0 L559.3,291.5 L559.4,291.0 L559.5,290.6 L559.6,290.1 L559.6,289.6 L559.7,289.1 L559.8,288.7 L559.8,288.2 L559.9,287.7 L559.9,287.2 L560.0,286.8 L560.1,286.3 L560.1,285.8 L560.2,285.4 L560.3,284.9 L560.3,284.4 L560.4,283.9 L560.5,283.5 L560.5,283.0 L560.6,282.5 L560.7,282.0 L560.8,281.6 L560.8,281.1 L560.9,280.6 L561.0,280.2 L561.0,279.7 L561.1,279.2 L561.1,278.7 L561.2,278.3 L561.3,277.8 L561.3,277.3 L561.4,276.8 L561.4,276.4 L561.4,275.9 L561.5,275.4 L561.5,275.0 L561.6,274.5 L561.6,274.0 L561.7,273.5 L561.7,273.1 L561.8,272.6 L561.8,272.1 L561.9,271.6 L561.9,271.2 L562.0,270.7 L562.0,270.2 L562.0,269.8 L562.1,269.3 L562.1,268.8 L562.1,268.3 L562.2,267.9 L562.2,267.4 L562.2,266.9 L562.2,266.4 L562.3,266.0 L562.3,265.5 L562.3,265.0 L562.3,264.5 L562.3,264.1 L562.3,263.6 L562.3,263.1 L562.3,262.7 L562.3,262.2 L562.3,261.7 L562.3,261.2 L562.3,260.8 L562.3,260.3 L562.3,259.8 L562.3,259.3 L562.3,258.9 L562.3,258.4 L562.3,257.9 L562.3,257.5 L562.3,257.0 L562.3,256.5 L562.3,256.0 L562.3,255.6 L562.3,255.1 L562.3,254.6 L562.3,254.1 L562.3,253.7 L562.3,253.2 L562.8,253.2Z"/>
<path fill="#9c3a4b" d="M636.6,453.6 L636.0,453.6 L635.9,453.0 L635.7,452.4 L635.6,451.9 L635.4,451.3 L635.2,450.7 L635.1,450.2 L634.9,449.6 L634.8,449.0 L634.7,448.5 L634.5,447.9 L634.4,447.4 L634.2,446.8 L634.1,446.2 L633.9,445.7 L633.7,445.1 L633.5,444.5 L633.3,444.0 L633.0,443.4 L632.8,442.9 L632.5,442.3 L632.3,441.7 L632.0,441.2 L631.8,440.6 L631.5,440.0 L631.2,439.5 L630.9,438.9 L630.7,438.4 L630.4,437.8 L630.1,437.2 L629.7,436.7 L629.4,436.1 L629.1,435.5 L628.7,435.0 L628.4,434.4 L628.1,433.9 L627.7,433.3 L627.4,432.7 L627.0,432.2 L626.7,431.6 L626.3,431.0 L625.9,430.5 L625.6,429.9 L625.2,429.4 L624.8,428.8 L624.4,428.2 L624.1,427.7 L623.7,427.1 L623.4,426.5 L623.1,426.0 L622.9,425.4 L622.6,424.9 L622.4,424.3 L622.2,423.7 L622.0,423.2 L621.8,422.6 L621.6,422.0 L621.4,421.5 L621.3,420.9 L621.1,420.4 L621.0,419.8 L620.8,419.2 L620.7,418.7 L620.6,418.1 L620.5,417.5 L620.4,417.0 L620.3,416.4 L620.2,415.9 L620.1,415.3 L620.0,414.7 L619.9,414.2 L619.9,413.6 L619.8,413.0 L619.8,412.5 L619.7,411.9 L619.7,411.3 L619.7,410.8 L619.7,410.2 L619.7,409.7 L619.7,409.1 L619.8,408.5 L619.8,408.0 L619.8,407.4 L619.8,406.8 L619.9,406.3 L619.9,405.7 L619.9,405.2 L620.0,404.6 L620.0,404.0 L620.1,403.5 L620.1,402.9 L620.2,402.3 L620.3,401.8 L620.4,401.2 L620.5,400.7 L620.6,400.1 L620.8,399.5 L620.9,399.0 L621.0,398.4 L621.2,397.8 L621.3,397.3 L621.5,396.7 L621.6,396.2 L621.8,395.6 L621.9,395.0 L622.1,394.5 L622.2,393.9 L622.4,393.3 L622.6,392.8 L622.8,392.2 L622.9,391.7 L623.1,391.1 L623.3,390.5 L623.5,390.0 L623.7,389.4 L623.9,388.8 L624.1,388.3 L624.3,387.7 L624.5,387.2 L624.7,386.6 L625.0,386.0 L625.2,385.5 L625.4,384.9 L625.6,384.3 L625.8,383.8 L626.0,383.2 L626.3,382.7 L626.5,382.1 L626.7,381.5 L626.9,381.0 L627.1,380.4 L627.3,379.8 L627.5,379.3 L627.6,378.7 L627.8,378.1 L627.9,377.6 L628.0,377.0 L628.2,376.5 L628.3,375.9 L628.4,375.3 L628.6,374.8 L628.7,374.2 L628.8,373.6 L628.9,373.1 L629.0,372.5 L629.1,372.0 L629.1,371.4 L629.2,370.8 L629.3,370.3 L629.3,369.7 L629.3,369.1 L629.4,368.6 L629.4,368.0 L629.4,367.5 L629.4,366.9 L629.5,366.3 L629.5,365.8 L629.5,365.2 L629.5,364.6 L629.6,364.1 L629.6,363.5 L629.6,363.0 L629.6,362.4 L629.6,361.8 L629.6,361.3 L629.6,360.7 L629.6,360.1 L629.6,359.6 L629.6,359.0 L629.6,358.5 L629.6,357.9 L629.6,357.3 L629.6,356.8 L629.6,356.2 L629.6,355.6 L629.6,355.1 L629.6,354.5 L629.6,354.0 L629.6,353.4 L629.6,352.8 L629.6,352.3 L629.6,351.7 L629.6,351.1 L629.6,350.6 L629.5,350.0 L629.5,349.5 L629.5,348.9 L629.5,348.3 L629.4,347.8 L629.4,347.2 L629.4,346.6 L629.4,346.1 L629.3,345.5 L629.3,345.0 L629.3,344.4 L629.2,343.8 L629.2,343.3 L629.2,342.7 L629.2,342.1 L629.2,341.6 L629.1,341.0 L629.1,340.4 L629.1,339.9 L629.0,339.3 L629.0,338.8 L629.0,338.2 L629.0,337.6 L628.9,337.1 L628.9,336.5 L628.9,335.9 L628.8,335.4 L628.8,334.8 L628.8,334.3 L628.7,333.7 L628.7,333.1 L628.6,332.6 L628.6,332.0 L628.5,331.4 L628.4,330.9 L628.4,330.3 L628.3,329.8 L628.3,329.2 L628.2,328.6 L628.1,328.1 L628.1,327.5 L628.0,326.9 L627.9,326.4 L627.9,325.8 L627.8,325.3 L627.7,324.7 L627.6,324.1 L627.5,323.6 L627.5,323.0 L627.4,322.4 L627.3,321.9 L627.2,321.3 L627.1,320.8 L627.0,320.2 L626.9,319.6 L626.8,319.1 L626.7,318.5 L626.6,317.9 L626.5,317.4 L626.3,316.8 L626.2,316.3 L626.1,315.7 L625.9,315.1 L625.8,314.6 L625.6,314.0 L625.5,313.4 L625.3,312.9 L625.1,312.3 L625.0,311.8 L624.8,311.2 L624.6,310.6 L624.4,310.1 L624.3,309.5 L624.1,308.9 L623.9,308.4 L623.7,307.8 L623.5,307.3 L623.3,306.7 L623.1,306.1 L622.8,305.6 L622.6,305.0 L622.4,304.4 L622.2,303.9 L622.0,303.3 L621.7,302.7 L621.5,302.2 L621.3,301.6 L621.2,301.1 L621.0,300.5 L620.8,299.9 L620.6,299.4 L620.5,298.8 L620.3,298.2 L620.2,297.7 L620.0,297.1 L619.9,296.6 L619.7,296.0 L619.6,295.4 L619.5,294.9 L619.4,294.3 L619.3,293.7 L619.2,293.2 L619.1,292.6 L619.0,292.1 L619.0,291.5 L618.9,290.9 L618.9,290.4 L618.8,289.8 L618.7,289.2 L618.7,288.7 L618.7,288.1 L618.6,287.6 L618.6,287.0 L618.6,286.4 L618.6,285.9 L618.7,285.3 L618.7,284.7 L618.8,284.2 L618.8,283.6 L618.9,283.1 L619.0,282.5 L619.1,281.9 L619.2,281.4 L619.4,280.8 L619.5,280.2 L619.6,279.7 L619.8,279.1 L619.9,278.6 L620.1,278.0 L620.3,277.4 L620.5,276.9 L620.7,276.3 L621.0,275.7 L621.2,275.2 L621.5,274.6 L621.7,274.1 L622.0,273.5 L622.3,272.9 L622.6,272.4 L622.9,271.8 L623.2,271.2 L623.5,270.7 L623.8,270.1 L624.2,269.6 L624.5,269.0 L624.9,268.4 L625.3,267.9 L625.6,267.3 L626.0,266.7 L626.4,266.2 L626.7,265.6 L627.1,265.0 L627.4,264.5 L627.7,263.9 L628.0,263.4 L628.3,262.8 L628.7,262.2 L629.0,261.7 L629.3,261.1 L629.6,260.5 L629.9,260.0 L630.2,259.4 L630.5,258.9 L630.7,258.3 L631.0,257.7 L631.3,257.2 L631.5,256.6 L631.7,256.0 L632.0,255.5 L632.2,254.9 L632.4,254.4 L632.6,253.8 L632.7,253.2 L632.9,252.7 L633.1,252.1 L633.2,251.5 L633.4,251.0 L633.6,250.4 L633.7,249.9 L633.8,249.3 L634.0,248.7 L634.1,248.2 L634.2,247.6 L634.3,247.0 L634.4,246.5 L634.5,245.9 L634.6,245.4 L634.7,244.8 L634.8,244.2 L634.9,243.7 L635.0,243.1 L635.1,242.5 L635.2,242.0 L635.3,241.4 L635.3,240.9 L635.4,240.3 L635.5,239.7 L635.5,239.2 L635.6,238.6 L635.6,238.0 L635.7,237.5 L635.7,236.9 L635.8,236.4 L635.8,235.8 L635.8,235.2 L635.9,234.7 L635.9,234.1 L635.9,233.5 L636.0,233.0 L636.0,232.4 L636.0,231.9 L636.0,231.3 L636.1,230.7 L636.1,230.2 L636.1,229.6 L636.1,229.0 L636.6,229.0Z"/>
</g>
<path d="M58.5,425.4H279.2M316.2,425.4H684.2M58.5,345.1H279.2M316.2,345.1H684.2M58.5,264.9H279.2M316.2,264.9H684.2M58.5,184.6H279.2M316.2,184.6H684.2M58.5,104.4H279.2M316.2,104.4H684.2M58.5,24.1H279.2M316.2,24.1H684.2M113.7,24.2V465.25M224.0,24.2V465.25M353.0,24.2V465.25M426.6,24.2V465.25M500.2,24.2V465.25M573.9,24.2V465.25M647.5,24.2V465.25" stroke="#b0b0b0" stroke-width="1.2" fill="none"/>
<g stroke-width="2.2" stroke-linecap="round" fill="none">
<path stroke="#680a74" d="M120.2,162.0h0M111.4,161.8h0M124.2,162.3h0M103.8,162.8h0M117.3,162.4h0M114.1,162.8h0M122.2,162.0h0M103.5,161.0h0M110.0,162.4h0M113.4,162.5h0M104.7,161.6h0M117.0,161.8h0M121.3,162.0h0M122.6,162.8h0M106.2,162.1h0M114.0,161.5h0M124.3,163.1h0M104.6,162.4h0M118.3,163.6h0M109.2,163.1h0M122.6,163.5h0M116.2,162.2h0M122.4,163.1h0M104.2,161.8h0M116.1,161.9h0M112.1,162.2h0M105.4,162.5h0M111.9,162.1h0M119.0,161.9h0M115.6,163.3h0M115.9,162.4h0M109.1,162.8h0M114.0,162.7h0M112.7,161.2h0M122.7,162.7h0M122.0,162.1h0M112.5,161.3h0M113.9,162.5h0M109.4,162.1h0M115.3,162.0h0M105.9,162.0h0M123.9,163.0h0M112.0,162.0h0M103.3,161.0h0M109.5,163.3h0M123.5,161.4h0M109.8,161.9h0M111.4,162.6h0M124.1,160.4h0M120.0,161.4h0M110.9,163.0h0M106.6,162.0h0M111.5,161.6h0M111.1,162.2h0M122.3,161.5h0M114.7,162.1h0M123.0,161.5h0M124.3,160.9h0M121.8,162.6h0M111.8,161.9h0M111.5,162.4h0M114.9,161.9h0M117.7,163.0h0M121.3,162.5h0M120.7,162.2h0M109.8,161.3h0M118.9,161.1h0M111.2,163.1h0M119.8,162.7h0M103.4,161.5h0M121.3,163.6h0M118.1,162.4h0M106.3,162.1h0M108.5,161.0h0M109.8,161.5h0M114.1,162.3h0M122.6,162.3h0M124.0,162.2h0M116.1,160.8h0M105.4,162.4h0M124.1,162.3h0M123.8,161.8h0M105.0,162.1h0M117.4,162.2h0M117.4,162.9h0M117.3,162.1h0M118.7,162.4h0M103.2,161.1h0M109.7,161.5h0M110.4,162.1h0M117.1,161.5h0M105.1,162.3h0M109.0,161.2h0M106.9,162.0h0M104.1,161.6h0M113.3,163.1h0M107.5,161.8h0M113.5,163.4h0M107.5,163.7h0M120.1,162.3h0M105.5,162.8h0M119.7,161.9h0M117.2,160.2h0M106.5,162.7h0M111.2,162.5h0M111.3,161.9h0M112.9,161.6h0M117.6,162.2h0M103.4,162.2h0M106.7,161.5h0M118.1,161.6h0M105.1,162.9h0M121.2,162.1h0M111.1,162.0h0M103.9,162.9h0M119.6,161.8h0M108.4,162.7h0M124.6,161.3h0M122.9,161.9h0M122.1,162.0h0M122.1,162.5h0M104.7,162.1h0M103.7,163.6h0M111.7,162.9h0M112.1,161.8h0M111.9,163.7h0M115.9,161.4h0M120.0,163.4h0M120.0,161.4h0M123.1,162.7h0M117.6,161.4h0M122.0,161.9h0M105.1,163.3h0M103.7,161.0h0M112.8,160.9h0M122.1,162.1h0M111.4,162.3h0M105.5,162.2h0M105.8,162.8h0M108.0,161.2h0M121.7,162.5h0M110.3,162.1h0M121.6,162.7h0M123.4,162.5h0M119.8,163.1h0M123.0,161.0h0M108.6,162.2h0M107.3,161.3h0M108.3,162.0h0M103.5,162.6h0M123.1,162.3h0M107.5,162.5h0M116.6,162.0h0M109.2,162.3h0M114.7,162.3h0M112.5,163.1h0M118.6,162.7h0M107.4,160.7h0M109.3,162.6h0M106.1,162.9h0M110.1,161.8h0M121.0,160.9h0M123.8,163.2h0M103.4,162.2h0M121.3,162.5h0M118.9,163.5h0M104.8,161.5h0M106.5,162.1h0M121.7,162.0h0M107.3,162.6h0M122.6,161.7h0M114.7,162.5h0M124.3,162.2h0M114.0,162.9h0M105.9,163.0h0M116.1,161.0h0M112.7,162.4h0M104.6,161.8h0M120.7,162.1h0M122.4,162.4h0M123.8,162.4h0M117.0,161.5h0M115.6,162.3h0M107.3,162.2h0M123.8,162.0h0M118.9,161.1h0M117.5,161.5h0M118.0,161.7h0M121.2,162.5h0M110.5,163.1h0M105.5,161.3h0M124.4,161.3h0M103.8,162.2h0M108.9,161.6h0M113.7,161.4h0M104.0,161.4h0M109.8,161.3h0M121.8,162.4h0M116.5,160.8h0M115.7,163.0h0M103.5,161.4h0M112.3,161.6h0M105.7,161.3h0M111.4,160.5h0M111.5,160.9h0M112.2,163.0h0M109.9,163.4h0M119.9,161.4h0M113.1,162.9h0M122.6,162.1h0M110.5,161.4h0M106.2,163.4h0M110.7,163.7h0M121.8,161.8h0M110.8,162.0h0M120.7,162.2h0M118.0,162.0h0M108.7,162.7h0M107.2,163.3h0M105.5,162.2h0M112.8,162.8h0M118.0,163.4h0M109.4,161.6h0M123.6,162.1h0M103.4,161.7h0M120.0,162.8h0M106.8,162.6h0M124.6,162.8h0M105.2,162.8h0M122.9,161.9h0M111.7,162.7h0M109.3,161.8h0M104.0,161.8h0M107.8,160.4h0M111.3,163.2h0M123.2,161.3h0M123.9,162.1h0M104.8,162.1h0M115.2,163.2h0M103.8,162.4h0M105.3,161.4h0M116.3,162.1h0M114.4,162.0h0M122.5,162.3h0M122.5,161.1h0M106.5,162.1h0M116.7,163.8h0M120.4,162.6h0M119.7,163.6h0M115.3,162.5h0M114.1,161.0h0M115.4,162.0h0M112.0,163.0h0M115.2,162.8h0M122.3,161.1h0M110.6,161.9h0M112.6,162.0h0M112.5,162.1h0M121.7,162.0h0M108.4,161.4h0M112.5,161.6h0M119.3,161.9h0M111.5,162.9h0M121.5,161.6h0M114.7,162.6h0M105.2,161.2h0M111.0,163.1h0M106.2,162.2h0M112.5,162.0h0M110.9,163.1h0M110.4,160.7h0M120.9,160.9h0M122.4,162.4h0M119.3,161.4h0M119.6,161.7h0M122.3,161.8h0M122.8,162.1h0M106.8,162.0h0M122.4,162.9h0M106.6,162.3h0M108.9,162.2h0M120.1,161.1h0M106.2,161.8h0M123.8,162.0h0M123.1,160.8h0M103.1,162.5h0M116.8,162.4h0M123.0,163.5h0M114.7,160.8h0M114.7,161.3h0M115.7,161.3h0M115.0,161.5h0M115.6,162.0h0M117.7,161.9h0M123.7,162.2h0M104.9,162.2h0M108.1,162.0h0M103.2,160.8h0M104.5,161.6h0M107.4,162.1h0M122.5,162.5h0M109.9,162.5h0M116.0,160.8h0M109.8,161.6h0M124.3,162.0h0M107.2,162.3h0M111.6,162.9h0M111.1,162.1h0M107.7,161.3h0M104.7,162.4h0M111.5,162.2h0M107.4,162.2h0M103.6,162.0h0M122.1,163.3h0M110.5,162.2h0M103.3,162.7h0M116.3,161.3h0M113.4,162.7h0M117.9,161.6h0M110.8,160.8h0M106.1,162.3h0M116.9,162.5h0M111.7,161.9h0M121.9,162.0h0M110.1,162.8h0M107.9,161.7h0M107.1,160.4h0M108.6,162.2h0M108.2,162.2h0M114.3,162.9h0M111.1,161.8h0M123.9,163.0h0M107.5,162.9h0M123.3,161.0h0M110.3,162.8h0M113.5,161.2h0M123.7,160.8h0M119.9,161.8h0M123.5,161.6h0M114.7,160.5h0M109.9,162.2h0M117.6,162.5h0M117.8,163.1h0M104.0,162.0h0M105.4,160.9h0M123.4,161.3h0M118.6,162.8h0M120.8,162.7h0M107.1,162.4h0M124.1,161.8h0M109.6,162.2h0M106.1,161.9h0M110.8,161.8h0M110.7,162.3h0M104.4,162.1h0M121.3,161.9h0M121.8,162.1h0M107.3,161.6h0M114.9,160.5h0M121.8,161.6h0M111.2,162.0h0M114.0,163.4h0M108.3,161.7h0M113.2,163.6h0M109.8,163.2h0M120.8,161.4h0M106.5,161.5h0M103.8,162.2h0M122.5,163.4h0M106.8,162.3h0M114.9,162.6h0M118.3,161.5h0M110.1,160.2h0M123.1,161.9h0M110.4,162.7h0M107.3,163.0h0M104.5,162.1h0M122.4,162.2h0M107.7,163.0h0M122.4,161.9h0M112.9,163.0h0M123.2,161.1h0M105.0,161.2h0M121.5,161.2h0M124.2,162.4h0M118.4,161.6h0M106.0,162.1h0M124.5,162.4h0M120.3,162.3h0M107.6,163.1h0M124.0,163.2h0M105.0,161.4h0M105.9,162.2h0M103.4,161.9h0M115.8,161.2h0M111.8,163.4h0M104.9,162.7h0M113.7,161.9h0M122.0,161.7h0M105.1,162.3h0M116.8,161.2h0M106.7,161.9h0M114.1,163.0h0M110.5,162.8h0M109.0,161.4h0M103.4,161.7h0M115.5,163.6h0M112.6,161.0h0M118.0,161.6h0M107.1,161.0h0M124.2,162.3h0M103.5,162.3h0M107.3,162.9h0M116.9,162.2h0M106.0,160.8h0M108.7,162.6h0M113.9,161.9h0M119.4,163.4h0M121.7,162.3h0M109.9,161.3h0M117.2,163.0h0M103.6,161.2h0M122.2,161.8h0M117.5,162.9h0M122.5,162.4h0M107.6,162.4h0M113.8,162.1h0M119.1,162.5h0M103.6,162.7h0M121.2,162.3h0M118.3,162.9h0M120.0,163.1h0M106.6,162.1h0M119.8,161.3h0M115.3,348.1h0M106.3,344.9h0M105.9,344.2h0M121.5,344.0h0M111.7,341.4h0M108.9,343.6h0M111.0,342.5h0M117.8,346.7h0M106.0,342.4h0M106.6,342.6h0M117.1,343.7h0M122.3,343.9h0M117.5,340.3h0M123.4,346.3h0M109.2,344.5h0M110.7,343.3h0M111.1,342.6h0M110.8,345.2h0M108.9,343.6h0M120.1,344.9h0M109.2,344.0h0M112.1,344.6h0M113.3,346.8h0M124.5,344.3h0M110.2,342.3h0M118.0,346.4h0M110.1,344.8h0M120.3,342.8h0M111.4,346.6h0M103.6,343.9h0M114.3,346.6h0M110.4,341.8h0M108.8,339.8h0M109.4,344.8h0M103.1,342.6h0M118.8,344.0h0M114.9,344.1h0M116.8,340.9h0M115.3,347.2h0M111.3,342.0h0M113.0,344.4h0M113.3,341.2h0M122.8,343.9h0M110.6,345.8h0M106.4,343.7h0M104.9,342.7h0M110.4,344.2h0M115.4,343.2h0M115.6,345.4h0M118.7,349.0h0M117.3,342.3h0M104.9,342.7h0M111.5,344.0h0M111.1,344.1h0M105.5,342.0h0M115.8,345.3h0M119.8,345.8h0M104.0,344.7h0M114.5,341.7h0M105.7,347.3h0M119.8,341.7h0M115.1,345.7h0M104.5,346.7h0M114.2,341.5h0M108.3,344.5h0M107.6,347.1h0M117.4,345.1h0M111.8,342.2h0M123.1,341.7h0M122.8,345.2h0M121.4,343.4h0M111.9,342.7h0M122.6,345.7h0M104.6,343.5h0M119.8,344.3h0M110.8,345.5h0M121.7,345.4h0M103.7,344.1h0M115.5,344.2h0M104.6,345.5h0M109.4,345.2h0M115.2,341.8h0M106.1,343.8h0M118.0,342.3h0M114.1,341.6h0M107.9,343.0h0M114.7,346.1h0M112.7,342.5h0M103.8,345.0h0M118.4,340.2h0M118.5,340.5h0M122.7,348.6h0M123.3,346.4h0M111.1,342.8h0M116.9,342.5h0M116.2,342.7h0M104.2,344.4h0M118.7,343.3h0M109.0,342.8h0M112.2,344.5h0M116.4,342.0h0M113.9,342.9h0M109.1,346.6h0M121.9,342.2h0M105.1,344.8h0M116.1,346.2h0M107.1,343.5h0M123.0,346.3h0M123.2,346.3h0M118.4,347.7h0M122.1,344.3h0M119.6,343.2h0M117.2,342.0h0M119.2,344.6h0M122.7,342.0h0M107.8,344.2h0M118.8,344.5h0M107.0,343.0h0M113.0,341.9h0M110.4,345.0h0M116.7,344.8h0M116.8,344.6h0M122.5,344.1h0M121.2,346.3h0M104.5,342.0h0M106.8,345.2h0M104.1,343.3h0M118.4,346.1h0M110.5,343.5h0M124.1,343.4h0M107.7,345.2h0M123.7,339.8h0M119.4,343.5h0M119.5,340.4h0M116.2,342.2h0M122.1,345.7h0M108.1,345.1h0M121.8,343.3h0M122.0,344.1h0M116.1,344.2h0M117.3,344.9h0M108.0,348.3h0M113.7,344.8h0M115.7,349.2h0M109.9,343.5h0M104.0,345.9h0M123.5,345.9h0M120.4,344.8h0M111.0,343.7h0M114.5,347.4h0M115.8,348.1h0M123.7,346.6h0M115.1,348.8h0M118.7,346.4h0M120.4,340.8h0M105.3,346.6h0M115.6,342.8h0M123.1,347.3h0M120.8,343.6h0M122.9,345.0h0M106.6,344.4h0M119.8,343.0h0M109.1,340.4h0M121.9,343.9h0M120.0,344.0h0M111.2,346.4h0M115.6,343.0h0M113.2,344.8h0M123.3,342.4h0M115.0,344.4h0M104.8,340.4h0M114.6,348.6h0M103.5,344.9h0M106.0,342.3h0M113.7,345.1h0M113.0,346.0h0M104.6,344.9h0M110.4,347.3h0M109.3,344.0h0M109.3,341.8h0M112.6,346.7h0M103.8,346.2h0M103.8,345.2h0M108.2,342.1h0M118.5,346.1h0M123.2,345.8h0M119.3,342.3h0M104.8,342.4h0M120.8,345.1h0M120.7,346.7h0M121.2,347.7h0M118.7,345.8h0M108.7,342.6h0M113.7,345.7h0M112.6,343.2h0M103.8,340.2h0M114.7,341.7h0M108.8,346.8h0M123.6,342.4h0M117.4,341.7h0M120.5,345.9h0M103.8,346.4h0M118.4,344.5h0M120.4,347.8h0M113.0,341.0h0M108.5,346.7h0M113.6,344.9h0M114.9,344.8h0M112.4,343.9h0M109.9,343.7h0M117.5,344.7h0M122.3,341.8h0M108.9,349.0h0M122.1,344.3h0M104.3,345.9h0M117.9,344.0h0M110.5,343.8h0M114.4,346.3h0M110.7,345.7h0M104.8,342.5h0M106.7,343.5h0M124.3,345.8h0M112.0,339.8h0M123.5,347.5h0M114.3,343.6h0M122.4,342.6h0M112.7,343.8h0M124.4,344.7h0M113.4,345.5h0M108.7,344.7h0M106.9,345.5h0M104.6,342.6h0M105.5,345.2h0M117.8,345.3h0M110.9,346.9h0M121.9,344.4h0M107.4,346.2h0M123.2,344.7h0M107.2,342.0h0M108.9,343.5h0M110.4,343.2h0M108.7,343.5h0M112.0,344.1h0M120.4,344.6h0M104.6,345.0h0M108.3,342.6h0M104.2,346.7h0M119.8,341.3h0M105.7,344.2h0M114.1,345.9h0M121.8,345.4h0M109.9,345.8h0M105.6,343.9h0M108.8,345.9h0M123.3,341.8h0M105.1,346.0h0M121.7,345.9h0M105.7,348.7h0M106.6,344.4h0M119.7,341.9h0M116.9,342.9h0M110.0,347.2h0M118.2,346.0h0M106.3,340.4h0M122.0,343.6h0M115.5,344.3h0"/>
<path stroke="#b0223a" d="M233.7,155.8h0M226.3,154.1h0M225.7,156.6h0M231.9,153.7h0M226.0,155.4h0M215.4,154.1h0M226.6,154.0h0M219.8,150.7h0M227.2,151.7h0M234.9,153.9h0M226.6,151.9h0M231.3,155.1h0M221.1,154.4h0M213.8,152.4h0M214.5,155.8h0M213.9,154.3h0M218.2,155.9h0M219.3,153.6h0M220.4,151.2h0M227.5,155.0h0M229.5,153.5h0M230.0,155.3h0M229.6,155.7h0M231.8,155.8h0M228.9,151.5h0M223.3,153.1h0M222.3,155.0h0M215.2,152.7h0M213.8,154.4h0M231.8,152.5h0M216.7,153.4h0M232.0,153.4h0M222.0,152.9h0M214.8,154.8h0M231.2,154.5h0M228.8,156.6h0M234.8,154.5h0M225.1,156.1h0M233.4,154.1h0M224.3,155.4h0M219.1,153.7h0M222.1,153.1h0M227.6,156.1h0M232.5,155.1h0M231.0,155.3h0M233.4,152.6h0M225.0,151.1h0M223.4,152.5h0M224.7,154.4h0M233.5,151.5h0M221.3,156.3h0M214.8,151.4h0M221.9,154.9h0M227.4,151.3h0M231.3,155.5h0M233.7,153.6h0M228.2,154.2h0M230.9,153.7h0M230.9,156.2h0M230.8,154.9h0M226.3,153.1h0M233.7,153.5h0M232.6,151.9h0M213.7,153.7h0M216.1,155.0h0M234.7,153.4h0M227.8,156.9h0M216.5,155.8h0M233.0,151.7h0M215.4,155.3h0M225.0,153.0h0M221.8,153.9h0M219.7,155.5h0M218.6,154.4h0M215.4,154.7h0M221.6,154.6h0M215.6,152.6h0M226.9,152.8h0M220.4,154.8h0M229.9,155.3h0M233.6,153.4h0M232.5,154.0h0M229.3,152.2h0M230.2,152.5h0M215.5,153.9h0M234.3,154.1h0M225.8,155.2h0M225.1,155.3h0M227.9,155.4h0M217.5,154.5h0M223.6,154.5h0M216.1,152.6h0M233.2,154.5h0M224.2,154.1h0M216.3,155.8h0M234.3,151.2h0M225.9,153.0h0M229.7,151.0h0M230.7,152.5h0M228.4,151.4h0M223.0,154.2h0M219.5,152.7h0M214.6,155.8h0M226.9,151.9h0M215.9,151.1h0M221.4,153.2h0M232.5,152.6h0M232.8,151.8h0M231.1,154.9h0M217.6,153.2h0M233.6,155.2h0M216.5,154.9h0M233.2,154.8h0M229.5,154.1h0M234.3,153.6h0M234.6,153.1h0M224.7,156.2h0M220.2,150.6h0M233.2,151.9h0M220.2,152.6h0M220.6,154.4h0M225.7,154.0h0M216.5,152.9h0M223.3,153.2h0M216.4,156.6h0M223.2,152.6h0M232.9,156.9h0M233.2,152.2h0M234.0,153.2h0M229.0,154.0h0M229.5,151.6h0M222.6,155.8h0M232.6,153.6h0M216.4,151.4h0M217.1,154.2h0M216.0,154.5h0M222.2,153.6h0M214.8,154.6h0M228.6,151.3h0M217.4,155.3h0M228.3,152.4h0M225.6,155.9h0M228.3,152.7h0M228.5,154.0h0M230.3,153.8h0M223.7,155.6h0M225.7,154.6h0M218.9,151.3h0M224.2,155.7h0M215.4,155.6h0M233.9,151.5h0M233.4,153.6h0M215.1,151.3h0M213.7,153.3h0M222.0,155.3h0M224.8,153.9h0M223.8,151.8h0M220.7,152.3h0M226.8,153.8h0M222.1,153.7h0M222.2,154.0h0M214.2,154.8h0M226.2,150.6h0M215.3,153.8h0M231.9,155.7h0M223.7,154.6h0M221.1,152.6h0M227.6,152.8h0M232.4,154.1h0M217.1,154.9h0M222.1,153.8h0M234.3,156.6h0M232.0,156.0h0M221.9,152.5h0M221.3,154.6h0M231.0,153.2h0M215.3,151.8h0M216.0,152.8h0M225.7,153.8h0M225.7,152.7h0M225.7,154.4h0M229.9,152.6h0M232.4,153.2h0M222.1,155.2h0M220.5,153.7h0M231.7,154.1h0M218.7,157.1h0M232.2,154.1h0M228.6,154.3h0M231.6,154.5h0M227.1,156.5h0M215.8,154.4h0M228.8,153.9h0M224.1,153.7h0M217.4,155.7h0M215.7,152.8h0M219.1,155.8h0M216.2,154.2h0M216.4,151.7h0M231.6,155.0h0M233.8,154.7h0M234.8,152.1h0M225.5,154.5h0M225.6,154.3h0M214.8,153.5h0M216.0,152.1h0M230.0,155.2h0M225.7,155.5h0M225.6,155.6h0M229.6,155.2h0M230.9,155.2h0M228.7,153.3h0M213.7,155.3h0M225.1,153.6h0M231.4,153.2h0M231.0,155.0h0M233.8,153.6h0M224.6,151.1h0M224.7,153.3h0M214.0,154.9h0M224.5,153.9h0M225.6,155.3h0M233.1,153.4h0M232.4,152.4h0M214.8,155.2h0M216.5,154.2h0M221.7,152.0h0M230.2,154.6h0M217.1,153.5h0M230.1,155.5h0M226.2,155.2h0M232.3,154.7h0M220.8,154.5h0M222.1,154.7h0M214.8,154.7h0M224.6,154.1h0M230.1,152.8h0M224.5,153.5h0M224.7,150.5h0M233.1,153.5h0M229.9,151.5h0M220.2,153.4h0M233.7,152.9h0M229.0,156.1h0M219.9,154.0h0M218.0,153.9h0M228.0,154.2h0M224.3,152.4h0M226.3,154.4h0M216.3,154.5h0M229.9,154.2h0M231.9,154.2h0M222.5,153.2h0M220.0,155.9h0M234.4,155.3h0M234.4,153.4h0M216.2,153.6h0M225.1,154.4h0M222.8,154.7h0M219.5,348.6h0M224.6,348.6h0M227.8,348.2h0M221.3,348.8h0M220.1,349.1h0M232.0,348.5h0M227.6,349.2h0M220.0,348.0h0M216.8,348.9h0M221.7,348.8h0M233.6,348.4h0M231.3,348.3h0M218.0,349.2h0M226.5,348.9h0M213.6,349.3h0M232.9,348.7h0M233.7,348.8h0M218.1,348.9h0M220.8,349.0h0M219.9,348.9h0M217.5,349.1h0M228.1,348.6h0M221.6,348.2h0M213.6,349.5h0M218.2,348.8h0M227.6,348.9h0M228.5,348.6h0M213.9,349.1h0M225.3,348.8h0M227.2,349.2h0M227.1,348.5h0M227.4,348.7h0M230.2,348.8h0M220.7,348.6h0M231.7,348.9h0M223.0,349.4h0M214.8,348.5h0M227.4,348.7h0M220.8,348.8h0M227.1,348.4h0M221.5,348.3h0M224.2,349.2h0M225.4,349.1h0M228.7,348.1h0M219.8,348.2h0M227.8,349.1h0M218.5,349.2h0M230.4,349.0h0M218.5,349.0h0M215.0,349.4h0M214.3,348.8h0M226.3,349.3h0M220.4,349.3h0M225.8,348.4h0M220.1,349.0h0M222.9,348.8h0M232.1,348.5h0M233.3,348.4h0M214.4,348.9h0M233.8,348.7h0M224.3,349.1h0M229.3,348.1h0M233.4,348.5h0M217.5,349.2h0M221.7,348.8h0M232.5,348.5h0M224.6,348.6h0M232.7,348.0h0M231.4,348.2h0M234.9,349.0h0M227.6,348.8h0M214.9,349.3h0M232.8,348.7h0M217.5,348.7h0M216.9,348.7h0M221.4,349.0h0M217.9,348.7h0M216.5,349.3h0M227.2,349.1h0M233.0,348.9h0M219.1,348.6h0M221.5,348.8h0M227.2,349.1h0M219.9,348.5h0M224.1,349.0h0M233.0,349.0h0M216.0,349.3h0M224.9,349.1h0M218.1,348.5h0M230.0,349.4h0M218.0,348.8h0M230.9,348.5h0M222.1,348.9h0M233.4,348.7h0M221.3,349.2h0M224.1,348.2h0M215.8,348.3h0M219.4,348.7h0M222.4,349.5h0M232.6,349.2h0M226.1,348.4h0M230.8,348.1h0M231.8,348.6h0M215.4,348.3h0M220.2,349.0h0M231.3,348.8h0M229.7,348.8h0M225.6,348.6h0M222.1,349.4h0M224.2,348.4h0M213.8,348.2h0M216.3,349.2h0M221.1,349.3h0M216.5,348.6h0M218.4,349.0h0M230.8,348.4h0M229.9,348.7h0M229.1,349.0h0M225.6,348.7h0M233.2,349.1h0M218.4,348.7h0M226.8,349.2h0M222.5,349.1h0M233.7,348.6h0M220.9,349.0h0M218.6,348.9h0M229.9,348.1h0M230.8,348.4h0M228.9,348.4h0M230.3,348.6h0M217.6,348.6h0M226.4,348.2h0M225.0,348.8h0M233.0,348.0h0M222.0,349.1h0M218.8,348.9h0M220.1,349.3h0M224.5,348.9h0M234.5,348.6h0M228.4,348.2h0M228.9,349.0h0M223.5,348.8h0M222.0,348.9h0M233.4,349.1h0M223.1,349.2h0M216.2,348.7h0M230.2,349.5h0M217.8,348.7h0M221.8,348.8h0M226.6,349.0h0M231.3,349.2h0M213.6,349.3h0M227.5,348.0h0M216.4,349.3h0M227.0,348.1h0M226.4,348.5h0M224.6,348.9h0M222.6,349.2h0M225.1,348.3h0M234.0,348.1h0M221.0,349.1h0M223.6,348.9h0M216.7,348.3h0M221.8,348.6h0M214.6,348.0h0M233.0,349.0h0M220.9,348.5h0M233.6,349.3h0M216.4,349.1h0M227.7,348.8h0M226.4,348.8h0M227.6,348.0h0M230.5,348.9h0M215.1,348.8h0M229.3,348.5h0M214.1,348.1h0M220.0,348.8h0M231.6,348.4h0M225.7,348.6h0M233.4,348.9h0M231.9,348.7h0M222.6,348.8h0M219.5,349.1h0M217.9,348.3h0M214.4,349.3h0M228.8,348.3h0M230.7,348.4h0M214.5,348.8h0M224.0,349.1h0M231.3,348.9h0M227.2,348.6h0M222.4,348.5h0M233.8,348.7h0M222.5,348.4h0M220.2,349.0h0M224.1,348.7h0M220.9,349.4h0M221.9,348.5h0M224.1,348.7h0M215.2,348.9h0M226.4,348.3h0M226.0,348.5h0M228.7,348.8h0M218.7,349.4h0M214.4,348.3h0M228.6,349.0h0M221.4,348.7h0M226.3,348.9h0M219.3,348.6h0M221.0,348.5h0M219.1,348.3h0M224.0,349.2h0M227.4,348.1h0M218.5,349.1h0M220.3,348.7h0M223.4,348.3h0M228.4,348.5h0M221.4,349.1h0M214.8,349.0h0M224.6,349.0h0M223.2,348.8h0M234.8,348.3h0M225.9,349.3h0M214.5,348.6h0M227.3,348.5h0M215.3,348.5h0M221.5,348.6h0M214.3,348.2h0M226.4,348.6h0M217.2,348.4h0M233.7,348.5h0M217.6,348.0h0M234.2,349.5h0M233.1,348.3h0M224.6,348.9h0M223.4,348.9h0M221.8,349.2h0M229.5,349.5h0M217.5,348.9h0M221.1,349.0h0M214.8,348.6h0M222.6,349.4h0M217.6,348.2h0M233.2,348.7h0M223.1,348.9h0M218.3,349.1h0M219.4,349.1h0M217.3,349.2h0M215.4,349.0h0M214.6,348.8h0M228.8,348.8h0M215.7,349.3h0M231.5,348.9h0M234.2,349.1h0M233.1,348.7h0M217.3,348.0h0M230.5,348.5h0M226.3,348.9h0M233.7,349.4h0M219.8,349.3h0M226.5,349.4h0M226.7,348.5h0M217.6,349.1h0M226.3,348.7h0M229.0,349.0h0M230.8,348.7h0M231.8,348.2h0M214.1,349.0h0M229.7,348.9h0M220.4,349.1h0M229.9,348.4h0M216.7,349.2h0M221.5,349.2h0M222.2,349.3h0M228.4,349.3h0M226.7,348.6h0M230.9,349.2h0M213.6,348.4h0M219.6,348.7h0M229.2,349.2h0M218.6,348.9h0M231.6,348.9h0M220.1,349.0h0M227.8,348.0h0M214.7,349.5h0M233.1,348.6h0M215.9,348.6h0M222.3,349.0h0M221.8,348.7h0M220.0,348.4h0M225.0,348.7h0M224.7,348.6h0M230.5,348.5h0M234.3,348.2h0M230.6,348.4h0M229.0,348.4h0M217.7,349.3h0M218.0,348.8h0M213.8,349.1h0M215.5,349.0h0M230.3,348.4h0M214.7,349.1h0M219.3,348.8h0M221.7,349.5h0M216.9,348.8h0M220.8,348.7h0M218.9,349.0h0M222.3,349.1h0M217.3,348.0h0M214.0,349.3h0M232.9,349.2h0M229.4,349.1h0M230.0,348.3h0M219.0,348.6h0M233.6,349.1h0M231.3,348.9h0M222.2,348.3h0M219.7,349.1h0M230.5,348.2h0M213.9,348.2h0M225.7,348.7h0M232.1,348.5h0M233.0,348.5h0M233.3,348.1h0M222.7,349.2h0M213.8,348.3h0M221.0,348.9h0M219.3,349.1h0M225.9,348.7h0M229.0,348.9h0M234.5,349.2h0M220.3,349.4h0M221.3,349.1h0M215.4,348.2h0M231.3,348.0h0M224.2,348.5h0M218.5,348.3h0M224.3,349.0h0M223.9,348.8h0M231.0,348.7h0M218.4,349.2h0M224.3,349.2h0M223.0,348.7h0M215.6,348.9h0M216.5,349.2h0M218.7,348.6h0M222.8,348.9h0M225.4,348.4h0M229.4,348.8h0M233.0,348.9h0M215.5,348.7h0M234.3,348.8h0M222.3,349.0h0M230.2,348.9h0M220.6,348.5h0M229.1,348.5h0M228.2,348.3h0M213.9,349.4h0M232.2,348.9h0M214.4,348.9h0M224.0,348.7h0M218.1,348.9h0M226.2,349.0h0M217.4,348.5h0M226.5,348.7h0M230.0,349.2h0M226.2,348.2h0M231.4,348.4h0M221.7,349.0h0M227.8,348.4h0M223.1,349.1h0M233.1,348.3h0M215.5,348.9h0M232.1,349.1h0M213.8,348.9h0M231.8,349.1h0M215.3,348.7h0M228.4,348.7h0M215.7,348.8h0M230.2,349.0h0M218.3,348.7h0M215.0,349.5h0M232.1,348.7h0M225.8,348.3h0M231.6,348.7h0M230.4,348.9h0M215.5,348.8h0M215.6,348.8h0M228.8,349.0h0M231.6,349.0h0M217.4,349.1h0M232.5,348.3h0M214.1,348.8h0M229.9,348.4h0M226.9,348.9h0M221.7,348.7h0M221.7,348.8h0M220.1,348.6h0M223.7,348.4h0M224.2,348.7h0M217.0,349.0h0M213.8,349.1h0M224.8,348.1h0M217.6,348.9h0M215.6,348.9h0M218.9,348.2h0M216.6,348.3h0M232.0,348.6h0M219.7,348.9h0M227.4,348.6h0M213.7,348.5h0M227.6,348.8h0M233.9,349.3h0M229.7,349.3h0M229.8,348.6h0M222.4,348.6h0M223.7,348.9h0M232.8,349.2h0M218.6,349.3h0M224.3,348.9h0M229.1,349.4h0M220.7,348.4h0M223.6,348.3h0M214.3,348.4h0M228.1,349.0h0M217.1,349.1h0M219.0,349.0h0M218.3,348.8h0M228.9,348.4h0M222.0,348.5h0M234.8,348.5h0M230.6,348.7h0M233.3,348.5h0M228.2,348.2h0M218.4,349.2h0M220.4,349.0h0M221.3,349.3h0M217.8,348.1h0M223.5,348.2h0M230.4,348.5h0M224.7,349.2h0"/>
<path stroke="#6aac3f" d="M348.2,323.3h0M356.3,235.3h0M359.7,308.8h0M352.6,298.9h0M347.8,248.7h0M356.3,275.6h0M353.5,355.2h0M357.4,325.3h0M354.5,270.1h0M358.3,328.3h0M346.0,320.4h0M355.1,268.9h0M354.4,283.2h0M357.0,317.0h0M348.9,275.7h0M354.2,267.7h0M349.6,357.8h0M356.7,316.3h0M346.9,310.7h0M348.0,227.0h0M359.4,355.0h0M356.4,304.2h0M349.4,329.0h0M350.3,261.3h0M352.0,247.3h0M349.1,353.6h0M347.8,234.7h0M359.8,261.3h0M348.8,325.4h0M356.6,193.0h0M356.1,313.1h0M356.4,250.5h0M350.1,349.9h0M349.0,288.1h0M354.7,281.8h0M360.1,213.7h0M351.4,242.9h0M348.9,277.1h0M353.1,354.9h0M348.5,291.6h0M350.8,299.7h0M356.4,77.9h0M349.3,262.9h0M352.2,295.2h0M355.0,301.4h0M348.1,253.2h0M347.8,345.9h0M359.7,246.4h0M358.3,263.9h0M358.5,290.9h0M354.0,259.7h0M353.0,296.3h0M347.3,337.6h0M349.2,293.5h0M347.4,355.0h0M353.4,347.6h0M352.0,290.4h0M348.2,245.1h0M347.2,327.6h0M354.0,282.4h0M347.8,116.4h0M345.9,244.7h0M349.0,208.5h0M357.4,263.5h0M355.3,272.4h0M353.2,273.2h0M349.0,271.1h0M352.5,286.9h0M345.9,302.0h0M350.5,321.9h0M352.7,351.9h0M347.1,300.7h0M354.1,252.9h0M352.1,276.4h0M346.5,334.1h0M347.9,246.9h0M352.8,357.3h0M358.7,177.9h0M346.6,265.9h0M353.9,276.0h0M349.9,294.1h0M351.4,245.1h0M359.1,367.6h0M354.8,364.4h0M349.9,280.1h0M352.3,312.4h0M359.9,295.7h0M358.3,278.2h0M351.9,356.7h0M353.4,108.5h0M352.4,263.2h0M347.9,345.3h0M359.7,256.6h0M349.1,278.6h0M348.9,262.2h0M347.3,256.7h0M359.4,89.7h0M359.0,341.8h0M355.0,75.6h0M353.4,285.4h0M354.1,328.0h0M351.1,300.0h0M358.6,301.5h0M353.8,214.8h0M358.1,279.6h0M355.8,351.6h0M355.6,259.2h0M355.4,282.8h0M357.0,246.8h0M357.5,356.1h0M355.6,233.9h0M350.4,217.0h0M349.6,367.1h0M348.6,285.4h0M358.1,341.3h0M352.8,279.0h0M345.8,347.2h0M354.4,221.5h0M358.2,330.8h0M359.0,264.2h0M359.3,265.7h0M358.3,308.5h0M348.3,325.8h0M353.2,193.7h0M356.0,357.7h0M355.0,319.5h0M350.9,307.5h0M346.3,272.9h0M358.7,300.7h0M357.0,343.1h0M358.3,274.4h0M351.3,258.2h0M349.3,260.3h0M357.9,283.8h0M355.2,310.8h0M355.4,366.3h0M346.2,278.6h0M347.3,268.3h0M356.9,290.1h0M358.5,146.8h0M350.9,327.8h0M358.4,246.9h0M348.3,258.8h0M354.1,211.1h0M350.8,184.2h0M353.5,322.3h0M348.6,186.8h0M351.3,295.5h0M352.4,263.0h0M354.1,154.8h0M348.7,271.8h0M354.5,273.1h0M348.8,350.8h0M359.9,271.6h0M349.2,321.6h0M347.3,297.7h0M349.7,299.3h0M354.0,126.0h0M352.2,267.3h0M355.3,258.1h0M347.3,332.6h0M351.7,311.3h0M353.8,227.7h0M359.8,341.5h0M358.6,154.5h0M354.0,292.0h0M350.1,297.5h0M347.4,280.7h0M354.9,289.8h0M353.9,286.2h0M352.6,292.5h0M356.2,260.6h0M352.5,315.9h0M357.0,333.6h0M349.9,291.0h0M350.5,347.3h0M358.9,289.2h0M354.1,283.2h0M359.5,251.1h0M346.6,343.5h0M359.1,296.4h0M346.6,251.6h0M356.6,305.6h0M354.1,243.0h0M347.5,258.8h0M350.1,357.2h0M352.7,298.2h0M353.8,253.3h0M352.8,279.4h0M346.1,263.7h0M360.1,93.1h0M350.8,263.4h0M356.2,277.1h0M359.2,240.6h0M359.8,291.6h0M348.4,366.3h0M358.6,316.5h0M353.2,271.8h0M355.2,160.2h0M349.3,270.5h0M347.8,314.6h0M354.1,84.7h0M358.8,295.9h0M351.8,323.7h0M359.5,276.4h0M355.9,304.7h0M346.0,343.0h0M359.2,259.5h0M347.4,261.7h0M349.0,127.9h0M353.9,338.6h0M359.3,199.1h0M347.7,249.3h0M350.1,319.6h0M346.4,285.1h0M347.0,268.1h0M352.0,309.5h0M354.1,343.8h0M353.1,242.8h0M346.4,333.9h0M351.9,283.6h0M352.2,290.6h0M359.3,207.4h0M350.5,275.7h0M354.9,292.4h0M352.8,120.2h0M357.0,303.3h0M354.5,258.0h0M360.1,322.7h0M355.0,254.4h0M350.7,255.1h0M351.8,244.6h0M358.1,284.4h0M351.1,324.6h0M359.1,267.9h0M352.1,199.5h0M359.4,310.3h0M347.9,363.0h0M357.1,330.6h0M352.2,176.2h0M349.0,367.9h0M354.3,354.4h0M346.6,345.4h0M348.6,217.8h0M358.0,298.5h0M353.3,261.7h0M350.6,260.2h0M347.8,291.1h0M348.1,257.3h0M349.1,287.4h0M352.4,277.6h0M346.0,310.8h0M348.7,369.6h0M351.9,272.0h0M358.5,317.6h0M358.3,316.0h0M359.3,226.9h0M349.0,301.8h0M347.5,344.7h0M358.0,268.1h0M355.8,278.0h0M349.3,353.6h0M352.0,303.9h0M359.1,270.1h0M357.6,315.3h0M359.3,102.0h0M352.9,249.1h0M348.5,282.0h0M353.5,193.4h0M347.4,359.0h0M347.4,324.2h0M347.1,194.2h0M349.4,281.5h0M348.1,333.0h0M349.5,274.5h0M355.8,257.5h0M355.5,270.9h0M346.1,356.2h0M358.2,358.4h0M357.6,294.9h0M359.4,364.3h0M348.9,348.1h0M356.3,266.8h0M353.8,290.5h0M356.0,347.9h0M358.8,228.3h0M346.9,300.8h0M357.9,224.2h0M358.2,270.3h0M355.1,269.1h0M351.6,292.5h0M353.6,263.8h0M347.8,321.2h0M356.5,318.9h0M353.7,229.1h0M354.1,327.6h0M356.0,298.1h0M347.2,255.9h0M346.4,307.0h0M347.5,301.2h0M346.9,200.7h0M357.3,327.1h0M347.7,321.5h0M351.2,221.8h0M355.2,316.0h0M349.5,306.9h0M358.9,225.0h0M359.0,308.5h0M351.4,73.0h0M354.2,245.8h0M357.1,240.5h0M359.9,324.0h0M355.8,325.4h0M352.2,255.0h0M346.4,244.8h0M355.0,324.2h0M355.3,327.2h0M355.8,321.2h0M350.8,338.5h0M358.2,292.9h0M354.3,282.1h0M351.2,268.3h0M349.3,354.1h0M346.2,329.4h0M356.0,342.1h0M350.3,316.9h0M358.1,330.5h0M350.4,172.9h0M350.2,300.0h0M357.1,338.3h0M351.2,264.3h0M360.0,126.8h0M353.9,249.7h0M359.3,266.2h0M347.5,299.3h0M346.4,295.5h0M345.9,311.6h0M358.4,248.1h0M352.6,248.5h0M356.3,283.8h0M353.3,235.2h0M359.7,265.8h0M357.5,262.3h0M352.7,317.1h0M348.4,321.5h0M351.3,323.7h0M351.4,196.9h0M351.0,248.9h0M356.1,211.2h0M357.8,245.5h0M357.7,248.3h0M348.6,290.8h0M348.2,253.4h0M355.4,333.6h0M356.3,265.4h0M357.1,357.0h0M358.8,137.7h0M350.6,226.6h0M346.7,333.9h0M351.1,253.1h0M350.4,245.4h0M347.3,357.1h0M355.6,274.9h0M353.1,293.0h0M354.8,269.3h0M358.3,222.0h0M354.1,258.3h0M358.6,326.4h0M357.5,276.2h0M353.4,275.4h0M354.7,365.9h0M352.5,339.5h0M351.4,302.2h0M356.3,331.7h0M354.4,322.2h0M351.1,263.3h0M355.2,144.0h0M353.5,287.8h0M347.4,266.5h0M356.5,253.9h0M352.9,263.7h0M359.2,265.3h0M358.7,369.6h0M347.4,231.7h0M349.6,334.5h0M355.8,331.3h0M348.6,281.3h0M357.7,272.7h0M355.5,254.6h0M359.5,313.1h0M350.8,163.6h0M355.7,268.3h0M354.5,241.2h0M355.6,285.3h0M359.5,350.7h0M350.8,365.7h0M349.1,267.1h0M357.4,292.2h0M347.9,290.2h0M353.7,307.7h0M359.1,331.7h0M358.0,285.8h0M355.7,319.3h0M346.0,217.1h0M359.9,331.6h0M352.3,134.9h0M350.0,235.9h0M346.7,298.4h0M347.8,252.5h0M346.4,273.3h0M353.8,286.8h0M351.3,247.2h0M350.0,244.1h0M357.6,327.9h0M346.9,204.2h0M351.8,359.7h0M357.4,368.1h0M357.7,284.5h0M356.0,311.7h0M353.3,292.7h0M348.0,285.1h0M351.5,286.5h0M356.3,202.2h0M357.0,190.4h0M354.6,304.4h0M358.7,314.0h0M353.9,265.6h0M358.0,328.4h0M358.8,295.9h0M348.2,258.9h0M347.9,368.0h0M360.0,252.7h0M350.0,257.1h0M352.2,297.9h0M351.9,320.5h0M358.0,277.8h0M345.9,312.7h0M352.8,245.8h0M352.4,272.3h0M347.2,310.8h0M352.2,247.9h0M358.4,270.5h0M346.5,339.5h0M349.4,293.9h0M354.5,283.8h0M353.6,164.1h0M356.7,308.5h0M350.7,289.1h0M347.5,120.2h0M351.1,292.2h0M357.7,244.8h0M352.0,345.7h0M351.5,296.9h0M357.0,330.8h0M354.2,223.7h0M347.7,276.4h0M351.2,325.2h0M358.9,346.6h0M346.2,292.9h0M356.8,345.8h0M350.2,284.3h0M356.6,257.7h0M348.1,310.2h0M355.2,333.5h0M358.2,301.9h0M346.7,333.7h0M359.6,241.2h0M347.3,345.9h0M345.9,256.3h0M357.6,306.4h0M353.2,257.8h0M346.3,252.8h0M355.2,338.9h0M353.1,254.5h0M360.1,163.1h0M359.9,274.8h0M358.4,266.6h0M353.3,308.2h0M357.6,332.3h0M356.4,255.9h0M349.7,245.9h0M356.6,327.2h0M350.0,342.7h0M351.8,303.4h0M346.9,268.5h0M347.7,301.3h0M353.0,140.2h0M357.9,250.1h0M357.2,192.6h0M348.0,271.3h0M353.6,254.6h0M350.2,157.1h0M348.7,358.7h0M351.0,273.9h0M355.6,330.3h0M359.1,249.6h0M347.2,322.9h0M350.0,256.3h0M356.6,306.6h0M352.9,265.9h0M351.4,263.0h0M357.3,201.1h0M346.0,230.5h0M359.4,290.5h0M349.7,262.0h0M358.0,331.0h0M357.8,345.5h0M357.9,259.3h0M354.7,203.3h0M355.1,255.7h0M346.4,280.5h0M351.9,268.2h0M354.8,257.6h0M349.7,274.6h0M355.6,301.6h0M353.7,239.3h0M355.4,300.7h0M358.1,206.7h0M350.6,249.0h0M354.8,249.9h0M346.5,243.5h0M357.3,100.6h0M357.5,93.5h0M355.7,282.3h0M355.7,299.4h0M353.9,257.2h0M350.5,134.5h0M357.3,268.1h0M347.7,361.4h0M354.2,358.0h0M347.3,287.0h0M356.5,250.6h0M353.0,221.2h0M354.9,299.8h0M348.2,280.5h0M351.8,280.9h0M355.3,346.1h0M352.1,369.6h0M356.2,279.7h0M347.0,282.0h0M350.9,234.5h0M347.3,331.1h0M356.4,238.7h0M351.5,316.7h0M356.6,277.9h0M356.7,260.1h0M346.3,337.2h0M354.7,162.3h0M357.4,148.6h0M359.0,131.4h0M347.0,369.5h0M347.1,266.7h0M352.2,263.9h0M356.6,226.3h0M347.4,327.9h0M360.2,340.8h0M356.0,247.6h0M346.0,318.2h0M356.5,351.8h0M352.0,346.6h0M348.3,266.5h0M355.3,278.3h0M356.1,255.5h0M354.7,247.9h0M349.4,369.3h0M348.4,176.1h0M346.6,226.4h0M348.2,176.0h0M351.0,253.1h0M350.6,298.4h0M346.8,320.4h0M358.0,196.9h0M348.5,293.0h0M346.9,284.0h0M348.8,261.0h0M352.1,262.1h0M354.8,261.5h0M346.9,268.8h0M347.9,281.5h0M346.1,253.3h0M351.5,296.6h0M360.2,318.1h0M357.0,200.8h0M358.1,240.7h0M359.0,258.9h0M348.9,333.4h0M355.1,356.3h0M351.8,186.2h0M351.0,166.0h0M356.7,316.5h0M353.9,268.2h0M354.7,363.6h0M349.7,296.9h0M359.3,260.4h0M355.2,302.0h0M354.8,247.9h0M356.7,196.5h0M359.0,338.6h0M348.3,262.1h0M349.6,299.6h0M359.8,332.3h0M355.5,303.9h0M358.6,284.7h0M350.5,214.3h0M360.0,253.5h0M352.0,368.3h0M357.4,353.8h0M358.9,82.9h0M353.2,276.0h0M351.8,270.2h0M352.9,303.3h0M347.6,244.0h0M346.8,275.9h0M359.4,272.0h0M355.2,320.2h0M347.0,252.1h0M354.3,325.9h0M349.3,338.6h0M357.9,271.5h0M350.9,243.8h0M346.0,313.1h0M355.4,311.6h0M360.1,336.5h0M356.4,270.9h0M359.6,252.8h0M347.2,340.6h0M350.0,278.4h0M357.0,277.8h0M352.4,343.9h0M348.3,278.9h0M350.7,316.6h0M349.9,328.3h0M355.9,103.3h0M356.9,346.9h0M356.4,304.8h0M355.4,269.3h0M356.6,295.3h0M359.1,363.7h0M349.6,233.4h0M349.8,321.9h0M359.9,294.2h0M358.5,201.4h0M355.4,132.1h0M357.2,194.2h0M355.0,294.3h0M350.2,256.0h0M353.9,240.0h0M349.3,328.6h0M347.2,132.2h0M350.6,344.9h0M357.4,265.2h0M347.8,321.9h0M346.4,325.7h0M349.2,338.6h0M357.1,166.9h0M358.5,340.1h0M349.7,196.9h0M359.6,333.8h0M352.7,307.1h0M355.7,326.3h0M355.4,98.0h0M352.2,346.5h0M357.9,235.5h0M358.7,311.9h0M352.6,155.5h0M350.1,255.3h0M359.3,317.9h0M355.9,281.3h0M351.0,334.5h0M348.1,294.9h0M351.5,361.2h0M352.2,262.8h0M357.5,272.0h0M355.9,316.6h0M353.1,365.2h0M358.9,170.1h0M354.2,340.7h0M358.2,307.4h0M346.7,361.5h0M346.9,298.5h0M358.2,295.7h0M356.4,278.6h0M349.5,308.0h0M347.5,320.2h0M346.8,250.9h0M350.4,315.4h0M358.5,306.7h0M348.5,283.6h0M349.3,316.3h0M357.8,257.9h0M348.4,348.2h0M349.2,308.1h0M356.5,292.9h0M358.1,318.8h0M359.4,242.2h0M346.4,303.1h0M350.5,293.0h0M354.6,286.4h0M350.5,244.2h0M356.5,325.2h0M349.0,244.4h0M354.5,160.1h0M348.1,317.5h0M347.9,333.2h0M357.3,250.5h0M354.8,309.8h0M354.0,323.8h0M351.2,349.3h0M355.5,269.8h0M359.5,172.2h0M351.2,225.4h0M346.4,272.5h0M349.5,290.4h0M357.0,120.9h0M350.0,265.0h0M356.7,150.7h0M348.7,262.1h0M354.4,261.2h0M351.0,260.7h0M353.4,340.6h0M351.2,319.7h0M354.3,351.8h0M356.4,176.6h0M355.9,80.9h0M352.0,270.7h0M346.3,335.4h0M357.7,340.8h0M347.3,289.4h0M351.2,297.3h0M357.1,328.9h0M359.9,347.2h0M356.2,266.3h0M347.4,250.0h0M359.7,352.4h0M346.4,310.4h0M346.3,311.9h0M356.4,277.6h0M359.0,270.8h0M355.0,294.4h0M358.4,233.5h0M355.1,297.3h0M347.0,311.4h0M354.7,253.3h0M356.8,241.7h0M352.9,227.8h0M356.0,333.2h0M352.5,328.7h0M347.2,287.2h0M358.2,135.1h0M348.7,269.1h0M348.7,268.8h0M347.6,307.5h0M350.8,91.9h0M351.6,331.0h0M348.6,275.7h0M348.1,263.5h0M352.3,247.5h0M345.9,247.0h0M352.9,298.0h0M347.3,316.7h0M347.7,114.9h0M347.5,276.4h0M358.0,314.9h0M357.5,338.4h0M360.0,248.5h0M357.4,239.9h0M353.1,274.5h0M351.4,298.4h0M354.2,265.0h0M354.9,114.2h0M360.0,273.6h0M350.6,250.7h0M358.8,224.9h0M359.5,254.5h0M359.5,284.1h0M354.8,331.7h0M354.6,261.2h0M360.1,244.0h0M351.7,141.8h0M357.0,336.0h0M346.9,342.7h0M349.2,267.5h0M353.0,244.8h0M356.4,349.7h0M348.3,269.8h0M357.6,317.5h0M354.1,60.5h0M347.7,301.9h0M346.3,348.6h0M351.5,251.3h0M357.6,311.8h0M359.9,293.2h0M356.7,339.7h0M349.0,306.9h0M358.7,339.2h0M348.0,318.9h0M351.5,273.5h0M355.4,312.1h0M350.6,264.2h0M350.5,209.3h0M352.0,273.8h0M358.8,360.6h0M352.5,146.0h0M347.0,328.5h0M350.9,304.4h0M354.2,279.4h0M353.6,269.3h0M359.6,305.0h0M353.1,290.2h0M357.2,268.5h0M356.6,287.9h0M352.5,314.7h0M351.8,294.4h0M352.4,298.3h0M347.5,313.3h0M347.0,271.2h0M347.4,281.0h0M347.6,294.3h0M346.9,259.8h0M351.5,247.1h0M347.9,266.2h0M359.9,305.2h0M351.6,172.5h0M345.8,344.4h0M355.3,248.2h0M356.1,292.9h0M359.4,296.5h0M349.3,241.4h0M350.3,265.5h0M356.6,125.2h0M354.8,227.4h0M354.8,342.2h0M359.3,282.1h0M360.1,253.2h0M345.9,348.4h0M351.4,277.5h0M359.4,85.8h0M346.0,321.9h0M350.6,342.1h0M356.8,313.7h0M346.8,304.7h0M354.2,314.3h0M359.0,291.3h0M353.5,243.6h0M345.8,280.4h0M347.4,272.4h0M351.7,343.5h0M345.9,352.0h0M355.3,157.1h0M349.6,304.2h0M350.7,161.3h0M357.1,306.1h0M356.4,267.1h0M357.3,264.9h0M348.5,347.0h0M350.7,350.8h0M354.9,290.0h0M353.0,340.3h0M357.4,312.7h0M351.7,328.8h0M358.9,309.8h0M348.9,288.1h0M355.2,310.1h0M357.3,306.1h0M360.0,284.2h0M351.2,262.6h0M358.5,357.1h0M354.5,71.1h0M355.0,291.5h0M349.5,185.6h0M358.4,367.4h0M346.7,353.6h0M360.1,345.3h0M353.9,196.6h0M354.2,294.2h0M348.3,240.6h0M355.5,261.4h0M348.0,347.4h0M357.8,301.9h0M356.5,306.8h0M348.2,288.5h0M357.1,254.8h0M354.9,348.2h0M350.0,182.4h0M355.3,285.4h0M355.8,301.2h0M353.0,261.1h0M355.8,315.8h0M357.2,259.5h0M358.6,293.6h0M357.8,285.2h0M347.3,329.9h0M358.2,327.7h0M359.5,235.4h0M352.7,273.8h0M358.8,292.7h0M349.0,252.3h0M346.3,197.3h0M352.2,334.9h0M347.5,69.3h0M347.6,365.0h0M352.2,269.8h0M359.8,317.9h0M353.3,319.8h0M360.0,283.1h0M353.1,270.8h0M352.4,290.7h0M346.1,259.3h0M347.0,157.9h0M358.4,333.3h0M355.7,322.1h0M353.9,270.3h0M358.6,294.5h0M355.1,309.4h0M349.8,282.0h0M358.3,261.2h0M356.3,201.2h0M346.9,168.2h0M357.8,246.0h0M351.0,304.3h0M358.0,223.7h0M357.7,259.8h0M358.9,332.3h0M347.4,154.4h0M356.4,320.5h0M350.3,262.7h0M358.1,261.4h0M347.4,201.9h0M358.4,264.3h0M359.8,108.4h0M353.2,353.1h0M353.7,358.3h0M354.6,328.9h0M358.7,273.9h0M347.0,292.5h0M358.1,348.5h0M350.8,327.8h0M351.6,273.5h0M358.4,295.6h0M347.5,253.7h0M347.8,286.6h0M355.6,227.6h0M356.3,254.3h0M349.0,283.2h0M355.8,302.5h0M350.9,325.9h0M346.1,313.3h0M349.5,302.9h0M348.1,301.9h0M352.3,331.6h0M352.3,285.8h0M351.3,343.0h0M358.9,232.3h0M351.3,276.7h0M348.5,346.1h0M359.4,307.4h0M355.0,319.3h0M359.5,335.4h0M352.3,284.9h0M354.5,330.9h0M350.5,336.1h0M359.7,260.6h0M349.7,291.7h0M359.2,263.8h0M350.7,286.2h0M356.8,282.0h0M355.1,310.2h0M357.0,292.1h0M348.7,284.9h0M360.2,305.0h0M352.9,244.9h0M346.8,320.7h0M355.6,324.9h0M346.9,304.7h0M355.1,251.0h0M356.1,240.2h0M348.7,275.0h0M347.4,302.0h0M347.7,266.2h0M355.2,244.9h0M356.5,321.3h0M359.0,264.2h0M350.4,259.8h0M347.2,297.4h0M354.8,337.3h0M357.8,270.5h0M356.2,326.5h0M352.8,300.9h0M349.6,277.3h0M356.3,142.1h0M358.1,337.0h0M348.9,350.2h0M356.0,277.9h0M356.9,165.9h0M360.2,356.1h0M351.2,266.9h0M351.4,361.0h0M346.4,276.6h0M348.1,341.7h0M356.5,265.1h0"/>
<path stroke="#5a9bd8" d="M423.3,339.4h0M432.5,313.2h0M424.0,359.2h0M430.9,395.7h0M424.6,372.8h0M430.3,356.5h0M425.7,376.0h0M422.4,369.8h0M422.3,319.9h0M423.5,328.4h0M421.1,302.8h0M431.9,323.1h0M432.7,320.2h0M430.9,310.0h0M419.4,300.7h0M432.1,317.3h0M430.9,406.9h0M431.5,326.3h0M428.5,408.5h0M422.4,316.1h0M423.7,398.3h0M425.0,320.2h0M422.0,378.8h0M419.8,300.6h0M433.1,390.8h0M425.0,312.9h0M428.2,310.4h0M420.9,356.2h0M431.8,316.8h0M430.2,345.7h0M420.0,359.1h0M422.3,359.0h0M430.1,414.6h0M420.2,312.2h0M419.7,396.5h0M421.1,370.0h0M421.4,392.6h0M430.6,304.3h0M430.7,320.9h0M427.6,325.6h0M423.8,317.4h0M430.7,304.0h0M428.5,315.0h0M420.3,322.0h0M422.1,349.1h0M429.4,321.7h0M427.6,277.9h0M425.1,318.2h0M427.0,324.7h0M422.9,297.8h0M427.8,401.4h0M421.4,398.8h0M433.6,305.2h0M431.3,291.2h0M426.6,402.4h0M433.5,411.5h0M429.2,417.0h0M427.7,317.8h0M428.7,381.2h0M429.5,318.8h0M433.7,312.7h0M430.7,414.7h0M422.8,299.4h0M420.2,360.2h0M432.7,319.2h0M430.0,340.8h0M427.8,343.0h0M426.4,332.5h0M433.1,419.4h0M420.0,329.4h0M421.6,358.0h0M424.0,340.1h0M433.8,376.3h0M429.4,344.7h0M428.1,310.6h0M424.3,279.8h0M421.7,370.0h0M419.6,299.7h0M421.4,315.5h0M421.9,389.2h0M426.8,415.1h0M424.7,298.2h0M433.5,363.5h0M432.7,388.0h0M427.4,313.2h0M421.8,310.2h0M424.0,297.1h0M419.8,322.9h0M428.9,349.3h0M424.9,348.1h0M432.8,368.7h0M423.9,314.3h0M431.7,291.2h0M425.1,393.1h0M428.8,335.0h0M424.5,341.2h0M431.1,394.3h0M422.6,316.7h0M421.7,280.2h0M420.1,356.0h0M424.9,309.0h0M430.0,296.6h0M426.1,357.0h0M431.6,294.5h0M427.8,307.8h0M427.1,313.7h0M426.6,370.6h0M419.9,355.8h0M427.9,389.1h0M422.1,297.1h0M420.6,304.0h0M420.8,392.7h0M421.8,320.7h0M428.3,367.2h0M423.5,306.7h0M423.6,318.0h0M425.3,290.7h0M433.2,309.0h0M423.1,389.3h0M423.7,337.3h0M423.0,317.8h0M423.9,295.4h0M423.7,337.6h0M431.4,371.7h0M433.5,354.8h0M425.1,361.0h0M431.9,377.9h0M420.9,342.8h0M426.3,360.9h0M431.3,322.2h0M420.7,297.2h0M433.8,289.0h0M425.1,377.0h0M426.6,318.3h0M433.0,312.1h0M432.7,378.3h0M422.4,320.7h0M426.0,369.5h0M430.0,338.8h0M426.0,346.9h0M433.0,303.5h0M422.3,363.5h0M433.5,320.1h0M428.3,317.3h0M428.2,345.7h0M429.2,293.2h0M423.2,345.3h0M425.8,346.5h0M422.5,311.0h0M431.0,323.9h0M424.2,309.2h0M421.4,378.2h0M432.2,379.2h0M424.3,308.5h0M433.1,334.7h0M425.8,300.5h0M428.8,363.6h0M430.7,362.4h0M426.8,300.0h0M433.0,339.3h0M431.1,387.2h0M432.3,365.9h0M427.1,306.5h0M421.2,358.0h0M421.9,319.1h0M421.5,302.2h0M427.1,315.8h0M433.1,307.5h0M427.4,282.8h0M425.6,351.8h0M421.0,298.9h0M424.8,319.4h0M422.0,369.2h0M426.0,382.4h0M426.0,346.1h0M432.9,381.3h0M425.1,306.3h0M432.1,319.0h0M420.0,404.5h0M424.4,298.7h0M429.8,316.6h0M425.8,327.9h0M420.5,380.6h0M424.5,325.4h0M427.4,294.7h0M433.2,317.3h0M422.8,326.3h0M420.7,315.9h0M430.3,319.5h0M428.3,315.0h0M424.4,369.7h0M425.0,379.1h0M424.1,415.9h0M429.0,302.4h0M431.9,419.6h0M423.7,359.6h0M432.5,317.3h0M425.4,323.0h0M426.5,296.5h0M423.1,367.2h0M420.6,386.3h0M422.3,376.8h0M423.0,323.1h0M425.7,353.3h0M426.5,326.7h0M431.6,311.3h0M424.6,347.4h0M430.4,312.6h0M423.0,413.1h0M426.3,319.7h0M420.5,295.9h0M432.3,292.5h0M424.5,318.1h0M428.6,280.2h0M427.5,363.3h0M426.4,352.1h0M422.8,327.4h0M431.3,322.3h0M426.2,303.2h0M421.3,327.4h0M420.8,403.3h0M426.6,310.6h0M427.5,365.5h0M423.4,298.3h0M422.8,367.4h0M431.4,352.4h0M429.3,381.4h0M421.4,351.1h0M431.0,316.3h0M420.2,357.6h0M431.6,403.2h0M431.5,317.2h0M421.2,308.6h0M433.7,387.4h0M432.4,329.9h0M422.0,397.5h0M428.8,414.2h0M426.1,337.0h0M421.5,354.2h0M422.4,298.9h0M422.3,415.5h0M429.1,313.7h0M427.6,308.6h0M433.4,330.8h0M423.8,322.9h0M426.3,361.2h0M424.7,360.3h0M424.9,401.8h0M427.8,296.0h0M430.7,409.8h0M429.3,381.4h0M421.0,309.2h0M423.4,326.4h0M428.4,322.1h0M430.4,352.7h0M431.9,376.6h0M424.6,304.6h0M426.0,384.1h0M420.1,352.4h0M426.9,307.6h0M423.8,352.0h0M427.0,289.6h0M428.0,374.0h0M421.8,321.0h0M420.5,320.3h0M429.7,322.9h0M429.8,306.2h0M433.6,403.9h0M426.6,319.8h0M420.3,305.2h0M420.5,402.5h0M433.4,319.7h0M430.0,328.1h0M421.8,332.3h0M425.5,320.3h0M422.2,314.9h0M430.6,310.4h0M429.9,296.8h0M432.8,313.1h0M428.9,266.7h0M425.2,312.6h0M432.5,357.3h0M424.9,379.4h0M430.0,396.7h0M422.5,357.5h0M423.4,385.1h0M428.1,311.6h0M423.6,311.2h0M431.8,315.7h0M426.8,335.6h0M432.8,325.9h0M428.1,359.0h0M427.7,294.6h0M426.7,414.6h0M422.2,347.6h0M424.4,318.1h0M432.3,373.0h0M429.2,300.7h0M430.5,324.5h0M425.4,337.6h0M422.3,399.0h0M430.9,355.1h0M425.4,317.0h0M430.6,355.1h0M420.3,404.2h0M424.5,317.6h0M428.8,350.9h0M432.8,301.3h0M422.3,311.1h0M433.6,309.4h0M429.1,297.6h0M422.3,303.9h0M419.6,345.9h0M432.8,318.3h0M429.1,359.1h0M429.8,369.2h0M425.3,368.5h0M420.6,386.9h0M426.3,362.6h0M428.7,365.1h0M423.4,312.2h0M433.2,360.4h0M430.6,403.7h0M419.6,330.2h0M423.6,369.3h0M432.4,311.2h0M430.2,365.7h0M431.0,319.0h0M422.1,373.8h0M432.1,324.3h0M428.9,299.6h0M425.2,351.0h0M429.2,321.0h0M422.9,328.3h0M432.3,397.0h0M420.5,412.7h0M423.2,301.6h0M429.7,343.6h0M425.4,311.4h0M432.1,331.3h0M431.3,301.9h0M429.2,370.4h0M424.6,324.2h0M425.7,319.6h0M424.2,305.0h0M423.9,409.5h0M419.5,339.1h0M423.1,324.9h0M429.4,317.1h0M427.2,380.5h0M424.1,319.9h0M424.1,311.0h0M422.0,308.7h0M420.5,365.2h0M421.6,328.1h0M428.4,352.0h0M432.8,334.8h0M429.3,339.0h0M424.4,290.7h0M427.5,415.6h0M421.3,290.3h0M420.6,408.2h0M420.3,394.9h0M427.6,368.4h0M427.8,354.1h0M421.6,300.4h0M433.0,301.7h0M421.4,292.4h0M426.7,334.5h0M428.7,414.6h0M419.8,314.9h0M423.3,296.7h0M427.1,387.7h0M429.2,302.7h0M429.2,420.2h0M428.9,308.7h0M420.4,323.5h0M420.2,295.7h0M431.8,299.0h0M421.5,403.8h0M424.6,323.1h0M431.5,362.1h0M420.0,328.2h0M431.8,398.0h0M428.8,339.5h0M425.0,331.8h0M422.8,419.4h0M426.9,325.0h0M431.3,297.2h0M422.3,399.6h0M422.9,290.8h0M426.6,323.8h0M431.1,367.6h0M425.4,285.4h0M425.3,325.0h0M433.3,328.5h0M427.1,336.6h0M430.7,298.4h0M429.1,382.9h0M427.3,367.6h0M425.6,354.8h0M428.8,399.1h0M431.4,301.5h0M421.4,323.8h0M423.3,316.3h0M422.4,298.0h0M431.1,323.4h0M424.0,356.0h0M425.9,320.7h0M426.8,322.9h0M433.2,351.9h0M419.4,363.9h0M422.0,340.0h0M431.9,308.6h0M426.0,375.9h0M424.7,270.5h0M433.0,363.3h0M420.9,356.7h0M419.6,384.3h0M432.5,334.2h0M431.2,337.4h0M427.1,311.6h0M423.2,297.0h0M430.6,361.1h0M421.6,303.9h0M425.5,350.0h0M421.8,332.1h0M425.3,383.2h0M419.5,297.3h0M426.0,337.2h0M425.9,310.6h0M433.6,410.6h0M424.8,310.8h0M427.1,364.9h0M421.6,327.0h0M423.4,312.1h0M422.7,374.8h0M433.4,321.0h0M421.2,302.1h0M428.7,376.2h0M431.4,325.6h0M433.0,372.4h0M429.6,380.1h0M422.0,323.7h0M432.7,326.5h0M426.8,313.8h0M427.0,300.4h0M432.3,310.2h0M419.6,344.4h0M429.8,324.0h0M430.4,312.1h0M429.1,301.9h0M422.2,311.6h0M432.6,322.8h0M422.8,382.1h0M424.1,299.5h0M431.4,355.1h0M432.7,332.3h0M423.2,298.1h0M426.3,368.2h0M431.7,295.1h0M427.1,364.4h0M422.7,392.5h0M424.7,322.0h0M428.5,304.9h0M429.8,332.6h0M423.8,301.6h0M422.1,333.5h0M430.6,303.5h0M423.8,386.5h0M422.9,354.7h0M423.5,384.4h0M422.7,308.3h0M421.3,325.4h0M424.9,313.2h0M422.1,362.7h0M428.7,308.6h0M420.9,273.8h0M424.5,394.6h0M433.1,348.0h0M426.0,299.4h0M432.3,300.9h0M422.7,299.2h0M430.7,364.8h0M420.6,318.7h0M433.1,392.8h0M433.3,329.1h0M429.4,317.8h0M422.3,359.2h0M430.3,330.1h0M431.0,338.4h0M428.8,393.2h0M430.6,397.4h0M423.0,305.8h0M430.7,419.7h0M422.6,278.5h0M426.7,296.9h0M425.1,277.9h0M422.5,305.5h0M423.1,419.9h0M432.2,385.8h0M420.3,348.0h0M426.5,372.9h0M426.3,399.6h0M421.0,294.8h0M420.6,295.5h0M425.7,306.6h0M424.5,360.2h0M423.1,300.8h0M423.1,303.3h0M422.7,347.0h0M428.6,383.3h0M433.5,381.7h0M423.8,331.8h0M425.1,302.3h0M429.4,395.3h0M423.8,329.3h0M421.2,340.6h0M428.7,297.4h0M424.5,378.2h0M419.4,313.2h0M424.1,347.1h0M432.1,313.7h0M420.1,303.0h0M432.2,302.9h0M428.2,301.4h0M431.4,353.0h0M427.5,356.1h0M429.6,384.4h0M432.2,359.8h0M421.9,385.1h0M421.0,305.6h0M427.6,403.5h0M426.3,371.0h0M426.9,305.2h0M424.6,306.5h0M433.5,284.0h0M428.1,335.4h0M428.2,404.2h0M419.8,304.0h0M423.4,354.2h0M423.5,306.3h0M433.7,413.2h0M421.4,407.6h0M426.7,316.5h0M429.9,311.5h0M428.4,318.7h0M430.4,320.7h0M424.6,316.6h0M421.7,382.6h0M422.7,398.7h0M427.3,341.7h0M426.9,319.6h0M425.2,360.9h0M432.6,373.3h0M425.2,327.5h0M422.4,331.7h0M428.1,357.4h0M427.8,293.5h0M430.7,291.1h0M427.5,403.7h0M419.5,324.5h0M426.4,362.8h0M422.0,344.4h0M422.8,409.8h0M430.5,394.3h0M433.3,408.0h0M432.0,383.7h0M422.8,313.5h0M425.5,394.8h0M431.8,298.0h0M431.5,304.4h0M420.2,357.3h0M423.4,311.1h0M427.9,289.5h0M422.2,385.8h0M419.7,318.8h0M422.6,325.7h0M427.2,349.6h0M429.7,353.9h0M430.0,392.7h0M427.5,313.6h0M428.0,369.9h0M426.9,330.1h0M430.8,293.3h0M428.8,341.9h0M429.2,348.5h0M432.4,292.7h0M421.1,317.4h0M419.9,318.2h0M427.1,365.5h0M425.8,314.0h0M432.5,336.2h0M423.8,319.9h0M429.1,333.3h0M429.4,394.1h0M422.8,298.7h0M419.5,311.1h0M425.4,288.2h0M422.3,350.4h0M422.1,355.1h0M426.0,381.7h0M422.0,350.5h0M427.5,346.7h0M428.3,372.4h0M426.2,358.1h0M427.5,352.8h0M422.2,300.4h0M427.7,327.5h0M431.7,303.2h0M431.6,402.8h0M421.0,371.6h0M424.1,289.4h0M429.7,402.6h0M427.9,397.1h0M425.0,321.6h0M431.4,353.6h0M432.3,370.5h0M427.5,315.9h0M423.0,315.9h0M433.3,371.6h0M426.3,320.2h0M424.4,326.7h0M421.2,301.3h0M433.0,397.4h0M429.3,363.7h0M420.4,318.5h0M422.0,408.1h0M432.7,301.3h0M420.5,285.7h0M429.1,346.0h0M427.6,306.2h0M426.6,360.9h0M429.4,290.2h0M424.2,367.4h0M428.4,418.6h0M432.0,397.5h0M427.6,326.4h0M427.0,406.4h0M428.2,281.4h0M422.1,314.6h0M424.2,318.3h0M429.7,314.9h0M427.6,330.6h0M421.1,298.0h0M431.9,309.9h0M425.3,329.2h0M422.9,354.6h0M421.5,379.9h0M432.7,348.7h0M429.9,340.9h0M423.8,394.2h0M422.2,293.8h0M431.7,359.3h0M421.5,320.1h0M426.9,398.0h0M429.0,319.4h0M432.9,313.7h0M429.3,394.4h0M420.9,283.3h0M426.9,376.3h0M432.5,358.4h0M423.3,308.5h0M420.6,344.3h0M420.2,298.8h0M431.4,362.8h0M432.9,348.9h0M426.0,311.0h0M423.8,300.2h0M425.1,298.2h0M421.9,353.9h0M425.7,320.7h0M426.2,331.5h0M427.1,312.0h0M420.9,364.7h0M433.5,301.8h0M428.4,309.8h0M427.6,374.1h0M431.3,348.9h0M420.1,344.4h0M427.8,293.1h0M424.7,326.6h0M428.6,315.4h0M432.9,293.0h0M420.4,333.5h0M421.9,290.6h0M424.4,353.1h0M427.1,415.8h0M431.3,388.8h0M430.0,311.0h0M427.3,335.8h0M422.2,302.2h0M426.6,320.6h0M425.7,311.4h0M421.0,341.1h0M432.6,317.2h0M431.5,310.7h0M428.2,336.6h0M422.9,323.7h0M427.7,301.5h0M424.0,293.2h0M428.7,341.5h0M419.9,397.8h0M428.1,301.6h0M427.5,327.4h0M432.7,285.4h0M427.6,306.9h0M430.7,338.1h0M422.6,301.0h0M427.4,319.6h0M424.0,309.8h0M433.6,298.1h0M433.2,317.6h0M422.9,290.4h0M428.4,333.2h0M420.4,336.2h0M427.3,314.0h0M433.6,332.3h0M421.4,310.2h0M429.9,320.7h0M426.8,308.1h0M433.7,302.8h0M425.3,318.4h0M431.3,295.1h0M428.0,305.8h0M430.9,300.5h0M431.7,413.2h0M428.7,414.8h0M424.4,314.4h0M428.0,345.1h0M430.8,299.1h0M431.2,334.2h0M428.5,308.0h0M426.0,361.4h0M420.6,314.7h0M421.0,296.6h0M428.7,300.1h0M425.1,338.4h0M429.1,324.4h0M426.9,320.5h0M425.1,342.7h0M422.3,324.2h0M431.6,286.7h0M423.3,298.5h0M428.5,348.8h0M420.8,311.5h0M433.3,290.2h0M421.6,339.2h0M426.7,301.1h0M431.1,304.7h0"/>
<path stroke="#3f72c6" d="M496.4,410.2h0M502.3,419.1h0M498.9,415.4h0M506.9,409.6h0M494.9,407.5h0M495.8,404.0h0M500.9,418.1h0M502.8,418.3h0M501.3,414.8h0M495.6,416.8h0M500.1,405.9h0M493.9,415.5h0M502.7,415.4h0M497.7,412.7h0M506.9,411.4h0M498.8,415.9h0M493.7,423.2h0M493.2,407.7h0M497.8,421.0h0M496.8,405.2h0M506.7,418.1h0M504.3,418.0h0M498.3,412.0h0M496.7,404.0h0M494.0,415.3h0M494.8,413.2h0M503.7,414.6h0M493.8,421.0h0M504.3,417.3h0M498.7,403.8h0M502.9,403.4h0M501.9,418.0h0M494.6,403.8h0M503.9,423.1h0M505.7,408.1h0M494.6,422.9h0M507.0,414.3h0M504.6,414.6h0M501.7,414.1h0M503.0,403.3h0M493.7,415.9h0M496.3,423.0h0M506.1,421.1h0M505.5,407.4h0M496.1,420.7h0M500.9,422.2h0M498.0,419.2h0M495.7,402.5h0M504.3,413.9h0M502.8,420.3h0M494.0,409.4h0M502.7,415.4h0M493.2,411.6h0M494.4,402.1h0M499.0,408.5h0M493.5,412.0h0M500.5,402.1h0M502.9,412.6h0M496.7,413.7h0M503.1,405.3h0M494.0,403.0h0M494.3,408.1h0M500.2,415.6h0M493.4,414.8h0M503.9,423.2h0M505.9,418.3h0M493.1,406.8h0M504.5,413.0h0M501.2,405.1h0M507.1,409.1h0M504.6,411.3h0M506.0,406.2h0M505.3,412.8h0M505.3,409.2h0M503.9,413.0h0M506.1,415.9h0M494.2,407.1h0M504.6,421.9h0M502.8,402.5h0M498.2,402.9h0M499.3,405.7h0M494.6,413.4h0M497.5,413.8h0M503.3,414.8h0M501.0,413.6h0M506.4,418.7h0M496.7,406.4h0M496.3,404.6h0M503.6,412.7h0M506.8,405.2h0M498.3,417.2h0M498.7,405.1h0M493.8,402.6h0M496.4,409.1h0M506.1,402.9h0M507.1,407.9h0M500.1,408.6h0M505.3,413.3h0M496.1,422.1h0M502.4,420.7h0M506.2,405.7h0M498.0,419.5h0M502.2,408.8h0M503.7,420.0h0M495.0,407.3h0M496.7,403.0h0M501.6,410.2h0M496.7,422.6h0M495.3,407.7h0M495.3,413.3h0M504.3,404.9h0M499.6,420.2h0M501.0,417.4h0M502.2,403.8h0M497.7,405.5h0M502.5,404.0h0M499.5,412.3h0M494.3,409.0h0M500.6,403.5h0M500.2,409.3h0M502.9,421.6h0M506.9,420.1h0M493.7,423.4h0M501.9,421.0h0M503.2,422.8h0M499.9,415.2h0M499.2,410.2h0M503.3,405.0h0M500.8,414.7h0M499.0,420.0h0M502.5,404.0h0M501.8,403.8h0M494.3,402.5h0M498.2,422.9h0M505.9,410.8h0M495.3,410.0h0M500.5,412.0h0M502.2,419.4h0M494.7,403.8h0M495.9,412.0h0M497.7,422.6h0M501.7,416.0h0M494.8,407.9h0M504.1,419.1h0M502.8,406.8h0M504.6,418.9h0M496.5,414.2h0M500.8,417.2h0M505.4,420.7h0M499.3,404.5h0M501.2,416.1h0M498.9,407.4h0M503.7,404.4h0M502.1,417.4h0M503.8,423.3h0M507.0,412.2h0M504.2,418.4h0M501.3,404.8h0M496.7,419.9h0M500.4,408.0h0M506.7,422.9h0M507.2,417.6h0M494.8,419.2h0M502.7,405.2h0M493.3,410.6h0M494.5,409.3h0M498.4,421.7h0M494.4,416.8h0M502.4,404.4h0M500.2,410.3h0M498.6,407.2h0M505.3,412.7h0M498.1,419.0h0M496.6,403.9h0M497.1,417.8h0M493.3,419.8h0M503.4,409.6h0M502.3,421.6h0M499.0,407.1h0M504.8,408.2h0M497.8,415.2h0M496.1,412.4h0M493.5,413.0h0M495.6,421.8h0M499.5,421.7h0M497.8,415.9h0M499.4,423.3h0M493.8,419.5h0M493.4,415.6h0M502.8,410.0h0M499.0,412.4h0M504.3,419.7h0M505.2,407.2h0M498.2,406.5h0M499.6,409.3h0M504.0,408.7h0M494.9,418.0h0M504.6,405.5h0M498.3,410.9h0M496.6,419.6h0M499.8,408.8h0M502.3,410.0h0M505.1,411.3h0M504.9,413.4h0M493.5,407.0h0M495.4,407.8h0M497.9,410.8h0M493.9,422.0h0M499.5,418.5h0M499.5,402.5h0M500.6,414.8h0M498.0,409.9h0M496.4,420.6h0M501.5,411.2h0M493.8,410.4h0M493.6,407.1h0M503.7,402.7h0M495.7,413.7h0M495.3,416.7h0M496.6,420.0h0M501.3,416.3h0M496.4,413.9h0M502.6,402.8h0M502.2,412.5h0M498.8,409.0h0M506.4,407.8h0M503.9,423.1h0M495.0,418.4h0M496.3,411.9h0M494.6,422.2h0M503.3,420.2h0M495.8,407.3h0M499.5,409.0h0M494.3,420.5h0M505.7,420.9h0M503.8,405.4h0M502.6,413.3h0M503.1,416.7h0M498.2,408.1h0M495.7,409.1h0M493.3,402.2h0M498.9,421.2h0M506.1,407.0h0M493.4,413.6h0M495.8,418.1h0M500.6,412.8h0M494.1,423.0h0M497.3,420.8h0M503.9,421.1h0M496.1,408.6h0M497.4,408.3h0M497.1,418.2h0M496.0,416.9h0M504.6,406.9h0M506.7,415.1h0M501.5,416.0h0M496.7,403.2h0M496.5,411.8h0M503.0,411.9h0M503.4,410.4h0M504.8,422.5h0M495.0,414.9h0M495.9,406.6h0M497.9,409.5h0M499.2,404.4h0M504.7,416.8h0M494.3,413.3h0M497.3,418.4h0M494.7,419.5h0M504.6,421.5h0M503.3,419.2h0M504.7,419.9h0M497.6,414.0h0M500.6,414.6h0M505.8,407.1h0M493.3,406.8h0M504.6,411.9h0M504.1,409.4h0M499.3,413.4h0M504.2,416.8h0M503.9,412.7h0M495.6,409.9h0M507.0,403.0h0M506.6,406.0h0M496.7,422.0h0M506.8,409.7h0M500.9,421.5h0M500.4,410.1h0M504.2,405.3h0M506.2,408.5h0M496.7,420.9h0M494.8,414.4h0M505.1,419.3h0M499.4,409.3h0M501.0,408.2h0M499.9,407.7h0M505.7,415.8h0M501.2,410.6h0M503.2,419.0h0M504.1,403.6h0M493.0,403.4h0M501.1,422.8h0M501.7,411.4h0M494.5,408.1h0M495.4,418.5h0M494.0,422.7h0M499.0,423.4h0M504.2,408.3h0M496.5,423.2h0M505.6,415.2h0M494.0,406.4h0M498.0,422.3h0M496.3,408.3h0M506.8,414.2h0M495.4,415.1h0M505.3,413.1h0M500.5,415.9h0M496.9,405.0h0M499.0,409.1h0M494.9,415.1h0M501.8,420.8h0M502.6,412.6h0M499.4,402.1h0M504.4,404.4h0M504.1,422.0h0M502.7,415.8h0M503.9,413.4h0M499.2,414.8h0M495.2,421.0h0M500.6,419.4h0M499.7,412.0h0M495.1,408.0h0M503.0,408.1h0M499.4,409.1h0M502.8,409.0h0M495.8,423.2h0M496.4,418.8h0M494.4,416.2h0M506.1,417.9h0M503.0,415.1h0M497.5,414.9h0M493.7,416.2h0M497.9,423.2h0M504.3,404.9h0M506.0,403.0h0M495.4,410.3h0M506.3,417.6h0M495.9,413.8h0M493.5,403.9h0M494.9,410.6h0M493.3,408.5h0M496.5,408.5h0M504.1,402.5h0M499.9,409.4h0M504.4,421.1h0M494.3,412.6h0M503.8,403.7h0M495.0,420.7h0M497.7,422.3h0M506.5,422.3h0M503.5,421.9h0M503.5,419.9h0M502.3,407.0h0M498.3,410.6h0M502.1,407.8h0M499.2,411.5h0M504.4,415.9h0M502.7,406.6h0M505.8,419.8h0M505.1,415.7h0M505.1,414.5h0M494.4,408.9h0M493.3,407.2h0M498.5,411.3h0M506.6,410.4h0M501.7,417.4h0M501.3,410.7h0M504.9,405.4h0M502.1,414.0h0M494.6,407.4h0M499.8,412.6h0M505.5,412.5h0M504.6,410.4h0M493.9,420.4h0M507.4,418.8h0M500.5,419.7h0M497.2,412.0h0M499.2,409.1h0M506.6,408.3h0M505.9,419.0h0M498.1,416.3h0M502.2,420.3h0M494.0,409.5h0M504.4,414.4h0M494.1,417.6h0M503.3,418.6h0M497.6,403.1h0M495.2,413.1h0M495.1,402.2h0M507.0,416.6h0M496.2,418.8h0M499.8,408.1h0M495.2,403.9h0M500.1,419.9h0M504.8,405.0h0M496.6,410.9h0M503.3,404.1h0M498.1,403.2h0M494.8,414.3h0M504.7,403.3h0M498.0,419.6h0M502.2,413.9h0M506.7,414.0h0M503.4,418.2h0M497.8,413.1h0M501.9,407.3h0M503.8,421.1h0M496.1,413.1h0M506.8,412.2h0M496.3,419.2h0M493.5,409.7h0M500.7,418.0h0M499.8,411.2h0M495.2,411.2h0M500.0,407.4h0M496.9,403.5h0M504.7,403.6h0M500.1,412.7h0M500.6,417.8h0M495.1,418.2h0M506.7,406.6h0M496.7,407.2h0M501.4,406.5h0M504.2,405.6h0M500.5,411.4h0M497.6,404.2h0M502.3,409.4h0M503.4,409.9h0M495.0,405.5h0M496.7,409.5h0M495.6,407.0h0M493.3,403.6h0M502.0,415.0h0M507.4,407.4h0M496.9,417.0h0M506.5,413.0h0M498.6,404.8h0M506.2,402.6h0M494.4,403.2h0M497.6,407.2h0M505.2,405.3h0M506.1,404.5h0M504.6,410.4h0M502.8,418.2h0M497.5,423.0h0M507.2,407.2h0M501.3,407.2h0M504.8,407.8h0M498.7,411.0h0M506.5,409.4h0M502.0,408.1h0M503.3,412.1h0M495.1,409.4h0M499.0,418.6h0M494.4,412.0h0M498.1,410.0h0M501.2,411.3h0M497.2,417.9h0M493.1,420.7h0M499.2,409.4h0M503.9,421.0h0M498.5,406.5h0M504.2,419.5h0M498.6,406.9h0M500.9,415.8h0M497.4,404.2h0M494.2,418.6h0M504.3,420.1h0M500.4,409.0h0M504.5,406.9h0M504.3,416.0h0M504.2,413.3h0M498.5,409.3h0M497.2,417.1h0M496.3,415.1h0M499.8,411.3h0M501.7,416.9h0M505.4,420.3h0M507.4,404.0h0M503.5,420.8h0M501.2,402.3h0M497.2,405.4h0M501.4,413.9h0M497.1,405.0h0M505.6,422.0h0M496.3,411.4h0M498.9,415.9h0M496.2,417.0h0M496.1,404.3h0M504.0,422.6h0M495.9,373.4h0M497.6,399.4h0M493.6,379.5h0M506.2,392.6h0M506.0,384.5h0M498.4,371.3h0M506.3,375.5h0M496.3,398.8h0M496.6,391.9h0M501.0,385.8h0M496.1,378.2h0M506.1,401.9h0M507.0,373.3h0M494.8,374.1h0M499.5,370.3h0M499.1,395.3h0M507.3,395.0h0M507.2,374.4h0M493.9,384.9h0M506.8,393.9h0M502.3,401.5h0M499.8,394.9h0M499.3,379.6h0M505.4,377.7h0M494.8,390.3h0M498.7,371.5h0M494.4,385.1h0M498.7,384.8h0M504.6,388.9h0M505.0,388.6h0M495.0,390.1h0M496.6,374.6h0M503.1,387.4h0M495.5,394.4h0M493.7,387.6h0M505.5,371.3h0M493.3,380.8h0M505.9,398.6h0M501.6,388.1h0M498.7,386.5h0M497.3,401.6h0M498.7,370.1h0M506.0,371.6h0M501.4,398.7h0M495.1,383.7h0M501.1,391.7h0M497.5,395.0h0M506.0,392.9h0M495.3,400.3h0M500.1,379.2h0M493.3,389.9h0M496.8,378.8h0M503.2,374.9h0M501.9,383.0h0M506.3,390.6h0M495.2,397.4h0M499.7,380.4h0M494.5,379.6h0M503.0,376.1h0M494.5,397.5h0M506.3,400.5h0M500.0,372.8h0M500.8,381.9h0M498.3,398.9h0M498.8,378.5h0M505.6,400.2h0M504.0,381.0h0M498.6,383.6h0M504.8,378.3h0M498.5,398.9h0M494.2,371.8h0M496.3,370.8h0M499.1,369.3h0M499.4,376.6h0M495.5,391.7h0M503.2,369.5h0M496.4,381.6h0M502.4,378.2h0M500.6,380.1h0M502.4,395.2h0M505.9,373.7h0M503.3,380.5h0M501.9,394.7h0M502.9,389.5h0M500.5,397.3h0M507.3,387.7h0M504.8,369.1h0M495.3,389.3h0M495.2,388.9h0M499.3,375.4h0M506.3,399.3h0M495.1,398.1h0M496.4,377.3h0M507.4,397.7h0M503.8,381.7h0M500.9,349.2h0M495.4,355.3h0M493.5,366.9h0M497.8,363.8h0M495.7,355.8h0M505.8,345.9h0M500.5,353.1h0M500.3,352.0h0M501.8,354.5h0M500.1,361.0h0M496.4,354.2h0M503.6,368.6h0M503.7,358.8h0M506.1,349.3h0M500.1,363.9h0M494.9,353.2h0M506.9,351.5h0M493.2,365.0h0M495.3,348.2h0M503.2,362.9h0M505.5,345.7h0M506.6,360.5h0M501.6,354.1h0M497.0,346.0h0M493.4,349.1h0M503.6,357.1h0M502.3,364.1h0M494.7,354.0h0M503.8,354.7h0M506.7,367.3h0M495.7,359.6h0M501.7,346.7h0M499.0,356.2h0M501.9,364.4h0M494.7,353.3h0M506.0,357.9h0M497.2,346.8h0M502.3,357.0h0M496.4,368.2h0M495.6,364.9h0M506.8,364.6h0M496.7,345.9h0M506.8,360.2h0M505.4,360.4h0M501.0,345.3h0M501.1,363.8h0M493.4,353.8h0M504.1,346.0h0M502.9,346.9h0M501.5,364.9h0M504.7,357.5h0M499.8,362.7h0M498.5,352.0h0M503.7,362.9h0M500.1,364.5h0M501.8,362.3h0M495.2,365.7h0M495.9,351.6h0M495.6,362.1h0M504.6,359.2h0M507.3,362.2h0M507.1,359.7h0M501.0,361.5h0M504.3,360.3h0M494.7,351.8h0M497.7,364.6h0M506.6,352.3h0M497.3,360.5h0M495.3,366.6h0M499.3,365.9h0M504.1,347.2h0M507.3,367.8h0M493.5,362.2h0M502.2,348.0h0M505.1,366.9h0M504.8,363.7h0M506.3,362.3h0M502.3,348.7h0M505.3,366.0h0M498.8,346.1h0M501.5,365.9h0M500.9,355.2h0M499.4,350.2h0M499.5,355.4h0M503.2,356.6h0M495.2,358.3h0M505.0,362.7h0M503.2,344.9h0M495.9,359.1h0M498.0,353.4h0M505.1,354.8h0M499.1,345.7h0M505.2,362.9h0M498.7,365.1h0M507.3,347.2h0M498.6,330.4h0M507.2,325.6h0M498.5,326.2h0M499.1,320.6h0M495.5,318.6h0M504.4,323.5h0M494.1,348.6h0M504.3,318.6h0M500.2,347.2h0M505.4,317.8h0M502.0,348.7h0M506.7,320.8h0M500.4,325.7h0M496.3,347.8h0M506.3,321.6h0M505.9,327.9h0M505.1,344.4h0M501.7,317.1h0M496.8,327.4h0M493.2,332.1h0M504.7,314.7h0M502.5,341.4h0M499.4,342.4h0M500.4,316.6h0M504.4,343.0h0M496.3,319.3h0M493.3,341.2h0M494.4,319.4h0M507.3,334.1h0M496.0,326.5h0M507.1,326.9h0M493.4,334.5h0M502.7,330.1h0M500.6,325.3h0M500.1,343.8h0M493.0,315.7h0M501.2,319.1h0M501.9,341.3h0M505.0,340.6h0M505.0,334.5h0M504.7,320.9h0M493.8,330.1h0M505.7,337.4h0M500.6,321.1h0M505.5,341.7h0M506.1,323.2h0M494.2,321.6h0M498.9,345.1h0M500.3,328.2h0M501.7,327.3h0M506.5,313.7h0M493.5,338.0h0M501.7,332.2h0M500.1,315.0h0M494.9,344.1h0M502.9,316.4h0M503.5,335.6h0M494.6,336.4h0M494.5,312.9h0M500.0,334.7h0M506.8,339.8h0M505.0,341.3h0M502.6,323.7h0M498.7,325.8h0M506.7,340.1h0M499.8,330.9h0M495.0,338.4h0M501.6,318.6h0M494.3,335.9h0M505.5,326.6h0M500.3,315.8h0M503.6,340.2h0M505.3,314.4h0M504.4,331.3h0M504.4,325.7h0M504.3,339.0h0M498.6,323.7h0M493.4,322.7h0M496.7,327.4h0M502.4,317.7h0M497.6,331.8h0M507.2,348.2h0M497.5,315.8h0M503.2,328.3h0M494.8,326.6h0M499.6,327.2h0M504.6,347.3h0M506.1,338.4h0M494.0,345.5h0M504.6,325.3h0M506.9,317.9h0M493.3,324.9h0M504.7,319.4h0M493.6,336.8h0M502.8,347.6h0M507.3,334.0h0M494.2,342.7h0M503.8,337.8h0M494.6,340.2h0M501.4,342.3h0M498.0,324.0h0M501.1,327.2h0M503.9,319.1h0M495.8,313.3h0M497.3,340.2h0M494.7,314.9h0M498.9,321.1h0M494.2,328.5h0M493.4,313.7h0M503.6,330.3h0M503.2,347.7h0M493.4,344.3h0M502.4,337.5h0M502.7,323.7h0M498.0,328.3h0M497.2,324.1h0M496.3,348.1h0M501.7,339.8h0M494.9,328.8h0M500.9,325.2h0M498.9,333.2h0M500.4,340.9h0M504.0,337.6h0M496.2,321.3h0M497.5,322.9h0M499.9,339.8h0M497.7,314.5h0M502.9,347.2h0M495.0,340.3h0M506.2,333.0h0M506.6,319.8h0M494.8,328.4h0M500.0,324.4h0M498.0,314.5h0M498.0,335.5h0M495.9,342.2h0M500.8,334.0h0M504.6,328.4h0M496.4,343.9h0M504.3,347.4h0M503.8,322.6h0M502.1,313.1h0M505.8,315.2h0M501.7,335.2h0M504.5,332.4h0M506.8,318.9h0M505.3,313.2h0M501.3,335.9h0M497.2,314.4h0M501.7,323.6h0M503.4,343.5h0M503.4,332.5h0M498.7,348.7h0M503.8,334.1h0M497.8,329.9h0M494.8,320.0h0M506.8,336.8h0M506.3,325.3h0M499.1,324.8h0M500.9,329.9h0M493.2,326.7h0M506.8,332.2h0M498.1,326.7h0M501.8,332.2h0M494.9,315.9h0M495.0,344.7h0M501.5,317.6h0M502.7,321.9h0M507.1,348.4h0M503.1,322.8h0M501.8,335.7h0M501.7,330.5h0M497.0,330.1h0M498.3,322.3h0M502.0,331.2h0M495.0,325.8h0M497.4,340.9h0M495.4,346.2h0M493.5,324.7h0M499.5,313.1h0M498.4,346.0h0M501.1,315.9h0M498.7,334.9h0M494.0,325.2h0M505.4,339.2h0M493.6,323.8h0M493.3,333.0h0M493.3,320.1h0M504.4,338.8h0M498.3,336.8h0M506.7,326.2h0M497.6,345.0h0M498.9,313.6h0M503.1,326.9h0M506.7,313.7h0M506.2,342.3h0M498.4,323.2h0M502.8,341.5h0M493.9,345.8h0M501.3,332.8h0M502.3,331.8h0M497.0,328.6h0M502.5,331.9h0M497.4,341.7h0M504.1,324.2h0M494.0,339.2h0M500.5,338.3h0M506.7,320.6h0M502.1,324.2h0M506.6,322.5h0M506.7,315.5h0M504.0,318.0h0M504.6,340.9h0M503.6,313.6h0M500.4,330.0h0M504.4,328.6h0M504.4,338.7h0M505.4,334.8h0M493.1,328.7h0M493.5,347.6h0M499.7,322.8h0M503.4,336.2h0M499.0,323.8h0M498.5,322.4h0M493.3,326.5h0M501.8,346.1h0M506.8,328.5h0M501.9,336.0h0M496.5,323.0h0M502.2,323.1h0M498.3,330.6h0M498.3,322.4h0M493.8,343.6h0M503.3,319.3h0M493.0,313.8h0M505.1,316.3h0M493.1,319.5h0M504.2,334.2h0M498.0,315.1h0M498.0,328.5h0M500.1,341.0h0M495.7,329.2h0M496.0,318.1h0M503.3,324.3h0M506.1,318.7h0M495.0,347.5h0M497.0,313.8h0M507.2,315.5h0M502.9,330.6h0M506.2,315.5h0M498.6,342.2h0M504.1,335.6h0M503.3,342.7h0M503.7,324.6h0M499.9,315.7h0M497.2,315.2h0M498.3,345.9h0M495.1,321.1h0M494.1,328.6h0M498.5,340.8h0M505.4,316.5h0M497.8,329.7h0M501.1,347.3h0M504.9,335.2h0M494.5,324.2h0M498.3,318.1h0M498.3,341.6h0M503.3,327.4h0M506.1,345.6h0M493.1,315.9h0M500.9,348.4h0M493.0,313.8h0M497.3,328.4h0M498.8,321.6h0M497.0,324.6h0M499.0,330.5h0M498.2,333.0h0M500.2,341.3h0M496.6,338.4h0M498.6,345.4h0M496.2,339.1h0M499.1,325.2h0M503.2,328.9h0M493.4,328.3h0M507.4,329.7h0M495.1,314.7h0M504.4,318.1h0M497.1,339.2h0M494.0,328.7h0M504.4,313.8h0M501.2,339.1h0M496.8,323.5h0M498.5,325.4h0M505.5,324.6h0M503.2,328.7h0M497.0,322.1h0M496.4,335.2h0M501.2,315.0h0M494.7,328.3h0M496.3,336.6h0M504.6,325.7h0M503.5,324.0h0M493.4,315.6h0M499.5,325.8h0M498.8,329.9h0M503.7,336.0h0M499.1,333.4h0M496.3,338.4h0M505.2,326.4h0M495.8,317.7h0"/>
<path stroke="#680a74" d="M576.0,385.9h0M570.7,411.7h0M575.6,422.5h0M569.1,341.1h0M579.3,406.5h0M572.0,375.0h0M576.4,310.1h0M577.4,312.8h0M573.4,389.2h0M574.4,328.9h0M568.3,400.2h0M574.4,312.5h0M574.3,376.3h0M579.5,419.4h0M571.7,354.1h0M568.8,414.2h0M572.5,274.5h0M578.0,421.6h0M566.8,364.0h0M567.1,414.7h0M581.0,390.5h0M574.6,402.0h0M577.0,341.8h0M573.3,407.7h0M569.4,370.3h0M576.3,312.6h0M570.1,420.5h0M573.1,371.3h0M569.6,419.1h0M579.7,360.1h0M572.3,345.7h0M576.6,415.5h0M569.2,339.6h0M575.4,397.9h0M570.9,405.7h0M568.3,300.2h0M571.2,401.3h0M567.5,411.3h0M575.3,404.5h0M574.6,333.0h0M578.9,288.6h0M567.0,396.8h0M572.5,394.0h0M580.8,385.4h0M571.6,349.0h0M567.5,424.6h0M578.2,357.1h0M568.0,296.3h0M576.9,400.0h0M574.2,397.9h0M579.3,304.1h0M574.0,399.9h0M576.4,401.8h0M570.3,345.2h0M580.8,395.5h0M569.6,380.3h0M578.7,407.0h0M576.5,376.2h0M573.6,402.3h0M572.0,359.3h0M567.8,394.1h0M578.1,324.8h0M569.9,389.9h0M579.2,345.6h0M579.4,397.8h0M569.6,377.6h0M570.8,408.1h0M576.9,386.5h0M577.7,378.4h0M567.3,412.4h0M578.5,390.2h0M578.4,323.3h0M575.6,411.8h0M579.5,394.4h0M580.7,349.5h0M569.6,398.7h0M580.2,423.0h0M579.1,391.6h0M575.1,396.3h0M568.2,319.5h0M580.5,378.2h0M577.4,360.6h0M572.0,402.3h0M571.3,336.1h0M580.4,351.1h0M569.9,418.6h0M578.5,378.6h0M573.0,333.1h0M576.7,379.9h0M578.5,297.1h0M568.0,408.4h0M570.4,386.3h0M568.3,391.0h0M572.4,406.5h0M568.7,359.7h0M579.8,398.4h0M578.0,380.0h0M575.0,359.5h0M569.4,369.2h0M569.7,418.0h0M575.2,421.2h0M579.7,352.6h0M580.1,379.9h0M580.0,414.9h0M571.3,416.1h0M576.7,393.8h0M574.1,413.1h0M574.6,317.8h0M576.4,410.5h0M570.9,310.9h0M570.5,371.0h0M572.6,389.2h0M570.0,377.3h0M579.0,374.5h0M571.9,407.0h0M567.2,394.5h0M575.8,420.4h0M580.9,421.7h0M574.5,311.0h0M570.7,347.0h0M579.6,364.6h0M575.7,417.8h0M575.6,382.8h0M573.3,371.1h0M577.8,398.4h0M576.3,401.7h0M574.5,369.3h0M571.4,424.5h0M577.9,395.7h0M579.8,408.6h0M567.9,397.5h0M567.0,389.4h0M568.0,399.0h0M579.2,341.4h0M575.5,340.2h0M572.4,363.6h0M580.7,357.3h0M580.3,393.5h0M572.7,407.8h0M572.0,353.5h0M574.3,416.9h0M575.2,385.7h0M578.8,381.8h0M579.3,417.4h0M570.7,411.6h0M579.0,377.2h0M567.7,345.6h0M569.6,400.9h0M572.7,391.2h0M567.7,372.2h0M571.6,386.9h0M567.0,396.2h0M578.3,381.3h0M576.4,371.9h0M570.4,356.1h0M574.2,388.7h0M572.2,378.6h0M578.5,412.1h0M570.9,414.1h0M570.0,354.5h0M577.8,410.5h0M577.5,398.0h0M576.8,339.4h0M567.5,415.0h0M567.2,376.4h0M580.0,409.1h0M580.7,382.6h0M569.6,353.3h0M573.7,352.6h0M573.3,360.4h0M570.7,392.2h0M567.7,390.2h0M570.3,413.5h0M580.5,416.9h0M573.0,365.7h0M569.6,421.4h0M567.7,316.6h0M575.9,412.7h0M578.8,370.3h0M570.3,397.3h0M577.5,383.9h0M566.9,364.1h0M568.5,406.4h0M575.8,351.7h0M568.0,364.3h0M573.3,387.0h0M573.6,387.6h0M567.0,401.3h0M578.5,298.3h0M577.3,401.1h0M578.0,409.5h0M576.0,389.0h0M570.7,323.7h0M576.7,320.5h0M574.9,387.2h0M575.6,400.8h0M577.5,365.8h0M570.8,388.9h0M579.8,352.2h0M573.3,350.2h0M571.2,373.1h0M574.2,296.2h0M580.7,380.1h0M576.8,295.0h0M568.0,379.7h0M570.6,410.8h0M576.3,382.4h0M580.4,362.1h0M574.4,398.9h0M574.4,413.7h0M566.6,403.2h0M568.8,359.7h0M578.3,411.4h0M570.1,424.4h0M574.4,340.9h0M576.5,296.8h0M575.2,343.2h0M577.7,356.1h0M575.9,368.8h0M571.1,389.5h0M575.1,379.7h0M576.7,365.9h0M567.6,404.6h0M580.6,411.6h0M575.6,374.3h0M580.7,384.8h0M579.1,283.0h0M567.1,399.4h0M567.8,399.5h0M579.0,416.6h0M570.2,424.2h0M579.8,415.5h0M580.8,385.9h0M577.7,301.1h0M575.6,417.1h0M573.0,414.2h0M579.7,375.9h0M575.7,406.1h0M568.0,421.9h0M577.1,338.6h0M571.4,414.9h0M568.6,398.0h0M571.9,364.5h0M579.0,359.9h0M577.3,305.1h0M572.1,385.9h0M578.5,414.9h0M574.7,419.4h0M571.5,380.7h0M568.1,390.9h0M576.5,409.1h0M570.2,413.9h0M573.9,403.3h0M570.1,406.9h0M575.7,403.1h0M567.5,403.3h0M570.6,364.8h0M575.6,396.3h0M578.8,347.5h0M577.1,393.4h0M570.8,406.7h0M572.4,321.6h0M573.9,379.7h0M580.3,348.4h0M569.2,410.0h0M578.0,295.9h0M568.3,381.6h0M578.7,401.9h0M568.2,409.0h0M572.1,418.1h0M572.0,422.8h0M576.3,412.1h0M571.2,405.6h0M578.3,391.2h0M580.8,400.5h0M577.0,421.9h0M566.9,415.2h0M568.0,423.9h0M578.2,422.2h0M572.5,406.3h0M574.0,381.2h0M578.8,414.6h0M576.9,339.7h0M574.2,285.9h0M570.9,383.7h0M567.8,421.7h0M568.2,412.9h0M567.4,392.8h0M572.4,315.4h0M580.3,290.3h0M568.2,367.6h0M574.1,337.9h0M575.5,418.2h0M580.2,393.0h0M581.0,395.2h0M576.1,410.9h0M575.0,388.5h0M576.8,388.6h0M572.9,296.9h0M577.9,420.3h0M578.7,406.2h0M569.7,413.5h0M574.2,410.5h0M571.1,405.2h0M568.4,402.2h0M572.7,304.3h0M575.4,404.6h0M574.1,394.8h0M572.2,413.9h0M574.6,410.7h0M573.9,410.9h0M567.0,388.0h0M576.6,406.2h0M578.0,407.4h0M573.3,391.8h0M576.0,424.1h0M570.1,344.4h0M577.1,421.4h0M573.2,399.6h0M575.9,284.8h0M576.3,413.7h0M572.9,421.9h0M569.3,394.6h0M580.2,382.1h0M578.6,401.4h0M572.1,410.7h0M572.1,374.7h0M578.9,386.2h0M577.5,403.5h0M570.6,383.6h0M578.5,349.0h0M571.5,392.5h0M578.8,401.1h0M568.2,383.6h0M580.3,393.2h0M571.9,418.1h0M579.9,333.6h0M570.2,416.4h0M572.0,366.6h0M570.3,398.2h0M575.1,359.3h0M570.3,391.8h0M576.4,352.6h0M576.4,395.8h0M577.7,409.2h0M573.2,361.7h0M572.8,351.3h0M570.2,393.4h0M573.6,318.7h0M574.2,372.3h0M570.6,316.7h0M574.7,412.1h0M569.1,311.0h0M572.7,362.1h0M571.3,311.4h0M574.3,403.3h0M577.8,389.1h0M567.1,336.7h0M573.0,377.2h0M568.1,406.8h0M571.7,406.8h0M577.2,309.7h0M575.8,377.3h0M577.0,421.3h0M578.4,408.5h0M571.5,389.1h0M572.0,412.5h0M569.3,396.0h0M571.3,377.8h0M575.5,419.1h0M576.3,408.8h0M576.9,340.5h0M574.4,422.2h0M567.3,417.3h0M575.9,352.7h0M578.8,376.7h0M579.2,395.6h0M566.9,345.3h0M572.1,411.4h0M573.7,424.9h0M575.6,354.1h0M578.1,381.3h0M567.0,404.1h0M579.6,387.1h0M572.9,419.3h0M580.6,405.5h0M578.0,388.1h0M572.3,348.1h0M580.3,405.3h0M573.3,420.7h0M568.2,418.8h0M569.5,405.8h0M574.4,382.5h0M577.6,372.6h0M571.1,374.2h0M580.2,341.9h0M570.3,376.0h0M580.7,377.4h0M576.0,385.7h0M577.2,377.9h0M572.2,368.6h0M574.3,294.2h0M571.7,413.0h0M573.9,380.7h0M578.8,416.4h0M577.7,411.5h0M578.5,320.1h0M572.6,400.0h0M570.9,388.2h0M575.2,411.2h0M580.4,392.8h0M576.8,423.4h0M570.0,387.0h0M578.1,305.8h0M579.4,375.2h0M577.3,378.1h0M577.1,389.2h0M576.4,405.1h0M574.8,361.0h0M572.3,401.0h0M577.0,404.1h0M572.7,389.9h0M569.2,295.0h0M579.6,368.0h0M579.8,376.9h0M568.4,416.2h0M578.2,354.8h0M575.6,398.9h0M571.4,382.3h0M571.4,388.7h0M568.7,358.9h0M573.1,422.9h0M569.7,418.2h0M576.3,407.3h0M580.3,411.7h0M570.9,376.0h0M570.3,416.9h0M574.1,418.5h0M568.3,391.3h0M568.7,420.4h0M569.2,357.4h0M578.6,404.5h0M573.9,406.1h0M578.0,385.4h0M578.6,294.1h0M571.0,407.2h0M569.1,410.4h0M567.5,402.3h0M577.2,360.1h0M574.4,316.2h0M578.9,414.6h0M576.1,423.0h0M569.1,405.9h0M573.6,405.0h0M572.5,365.7h0M568.3,376.1h0M568.7,365.8h0M576.8,400.8h0M576.2,398.5h0M572.7,311.8h0M568.4,421.7h0M570.3,423.7h0M573.0,424.0h0M577.3,353.2h0M572.6,392.2h0M577.5,374.1h0M571.9,379.5h0M575.3,354.0h0M577.4,391.3h0M572.7,404.6h0M573.4,417.2h0M567.4,399.6h0M568.2,412.1h0M576.4,320.3h0M568.0,363.0h0M569.3,407.1h0M573.6,392.7h0M580.0,395.8h0M581.0,384.7h0M577.8,309.4h0M571.8,407.6h0M569.2,383.8h0M572.5,393.3h0M567.5,305.7h0M570.7,410.8h0M576.8,380.2h0M575.6,418.6h0M580.0,390.2h0M571.1,303.2h0M572.6,370.4h0M577.2,422.9h0M570.2,288.7h0M570.1,390.5h0M580.7,387.1h0M571.6,310.1h0M579.3,386.6h0M572.4,410.7h0M579.6,398.5h0M578.6,365.4h0M570.8,400.6h0M567.3,413.7h0M576.2,401.0h0M571.5,417.8h0M571.4,418.0h0M576.9,416.6h0M572.6,392.9h0M570.6,405.0h0M579.1,413.0h0M578.1,367.2h0M578.3,384.0h0M571.3,352.7h0M580.7,414.2h0M574.0,383.2h0M571.2,408.3h0M568.6,393.9h0M578.3,397.4h0M576.8,386.7h0M580.1,387.9h0M568.0,325.4h0M567.4,382.7h0M579.5,403.3h0M570.2,357.3h0M571.4,414.1h0M568.4,360.8h0M573.9,387.3h0M569.6,408.4h0M567.5,364.9h0M580.4,417.1h0M568.6,422.6h0M571.9,407.8h0M569.5,393.2h0M578.5,382.1h0M577.9,405.4h0M579.9,387.2h0M573.5,291.2h0M578.0,272.3h0M578.3,370.2h0M578.7,406.1h0M568.9,395.3h0M573.7,354.9h0M576.1,338.8h0M571.0,307.2h0M577.9,401.1h0M575.8,404.0h0M578.2,404.2h0M577.4,359.0h0M572.9,304.4h0M568.3,388.5h0M570.1,397.6h0M573.8,378.0h0M580.4,399.0h0M569.6,387.9h0M578.4,412.5h0M570.3,418.1h0M575.1,400.0h0M579.6,408.0h0M573.1,414.7h0M569.8,300.5h0M571.1,373.9h0M577.4,401.1h0M576.3,281.6h0M575.7,417.6h0M569.7,403.4h0M577.5,339.6h0M578.7,298.8h0M573.3,357.6h0M570.6,412.7h0M575.4,388.3h0M578.0,420.0h0M573.2,420.6h0M574.7,344.4h0M577.4,424.9h0M579.9,418.2h0M567.8,417.6h0M576.6,371.7h0M567.5,382.3h0M570.5,410.9h0M576.5,399.7h0M569.1,307.1h0M576.2,411.3h0M577.9,420.3h0M576.5,380.3h0M578.5,417.5h0M575.4,389.1h0M573.9,408.7h0M580.9,422.8h0M571.5,378.9h0M569.1,365.0h0M573.8,405.4h0M575.1,414.3h0M571.8,293.9h0M580.4,409.3h0M571.4,409.2h0M569.3,402.4h0M574.4,409.6h0M569.8,409.2h0M575.7,321.5h0M570.8,419.3h0M571.9,350.0h0M576.5,390.9h0M576.4,422.6h0M567.3,414.8h0M574.8,379.2h0M574.8,388.8h0M571.8,409.5h0M572.0,406.7h0M575.4,319.7h0M577.9,367.5h0M577.9,378.5h0M578.8,321.7h0M574.3,410.1h0M570.3,404.5h0M577.2,349.3h0M569.0,397.8h0M566.9,397.3h0M568.6,354.6h0M567.4,270.8h0M572.7,338.7h0M572.3,361.5h0M580.5,397.4h0M578.9,372.5h0M578.6,410.4h0M577.2,408.8h0M569.2,411.6h0M568.9,376.0h0M578.5,308.9h0M577.6,364.3h0M567.3,408.1h0M572.6,378.7h0M570.5,403.3h0M574.6,351.9h0M573.1,394.7h0M573.4,409.0h0M575.6,406.7h0M577.8,419.0h0M579.5,402.7h0M573.6,404.0h0M572.1,396.6h0M579.0,379.0h0M567.0,319.0h0M577.7,353.1h0M567.4,387.6h0M570.9,402.7h0M579.9,413.6h0M571.1,386.0h0M567.3,420.5h0M568.4,421.3h0M580.4,380.8h0M572.5,413.9h0M571.9,347.3h0M579.7,377.5h0M578.9,391.7h0M570.2,314.7h0M568.3,416.0h0M579.5,405.6h0M572.1,393.0h0M573.3,300.3h0M568.9,419.5h0M572.5,385.0h0M579.5,324.7h0M579.7,415.1h0M569.4,372.8h0M575.9,374.7h0M568.7,402.7h0M573.9,390.8h0M577.9,315.2h0M570.4,395.9h0M575.1,396.7h0M569.4,388.4h0M570.6,422.9h0M575.9,354.6h0M571.5,421.4h0M569.8,292.4h0M571.3,297.4h0M577.6,352.9h0M572.6,336.4h0M575.3,383.6h0M570.4,405.9h0M575.6,384.8h0M567.2,376.3h0M567.4,415.3h0M569.7,360.9h0M578.0,406.0h0M569.1,392.6h0M572.7,408.1h0M581.0,407.2h0M570.0,341.5h0M568.7,361.7h0M570.6,420.6h0M574.3,361.5h0M579.6,321.1h0M567.1,372.8h0M574.3,374.5h0M566.9,408.2h0M580.9,373.6h0M573.2,401.6h0M576.4,322.5h0M570.3,372.7h0M573.5,404.9h0M578.5,339.7h0M568.3,361.0h0M569.7,411.8h0M571.0,411.0h0M578.5,424.3h0M579.6,361.7h0M577.4,419.0h0M570.2,407.6h0M571.2,367.7h0M577.2,405.9h0M573.0,407.0h0M571.6,420.4h0M581.0,421.5h0M570.3,387.8h0M577.9,415.5h0M569.2,301.1h0M579.8,423.3h0M570.7,405.3h0M579.9,412.8h0M576.9,335.1h0M579.2,365.2h0M575.8,417.3h0M568.1,421.1h0M572.4,419.2h0M580.8,367.1h0M568.4,365.8h0M574.3,381.8h0M574.1,394.4h0M572.9,396.2h0M570.7,385.6h0M571.1,417.5h0M569.6,357.3h0M570.4,360.4h0M567.1,376.1h0M577.4,409.8h0M579.5,411.0h0M569.8,291.5h0M567.4,308.5h0M572.2,365.6h0M568.2,359.0h0M572.8,396.6h0M570.3,341.4h0M574.9,374.8h0M577.3,397.9h0M579.3,376.0h0M577.0,419.4h0M578.6,400.7h0M581.0,348.3h0M572.4,395.1h0M568.9,389.1h0M569.1,388.7h0M573.3,311.3h0M576.6,411.8h0M578.6,376.0h0M569.0,397.2h0M574.2,409.8h0M567.7,421.6h0M574.9,384.2h0M579.1,412.8h0M571.6,386.8h0M576.4,398.4h0M575.8,400.0h0M576.2,338.6h0M569.2,418.7h0M574.0,388.7h0M567.4,399.4h0M572.6,414.7h0M567.4,400.6h0M580.6,343.7h0M571.6,412.0h0M570.2,376.2h0M579.7,408.0h0M572.9,392.1h0M574.0,389.6h0M579.2,420.0h0M574.2,354.8h0M572.3,401.7h0M577.3,411.3h0M571.0,411.4h0M568.8,287.7h0M577.0,311.2h0M573.8,395.8h0M581.0,407.8h0M574.5,372.2h0M579.6,421.3h0M567.2,345.3h0M566.9,424.9h0M571.7,421.6h0M578.7,404.3h0M573.5,396.7h0M575.4,424.9h0M571.9,407.0h0M571.6,288.8h0M571.4,361.0h0M570.7,420.9h0M567.1,341.4h0M576.4,396.0h0M571.1,284.0h0M579.9,405.0h0M575.1,405.7h0M568.9,376.3h0M570.9,394.5h0M569.2,407.5h0M577.5,391.7h0M570.3,381.4h0M574.7,405.5h0M572.9,351.9h0M571.9,365.5h0M579.1,364.7h0M574.0,378.7h0M571.1,410.1h0M569.1,372.5h0M570.9,413.3h0M569.3,415.3h0M576.2,393.3h0M577.4,413.5h0M575.2,416.2h0M576.9,385.9h0M577.4,294.6h0M574.9,421.1h0M569.3,397.5h0M575.9,418.7h0M567.0,390.6h0M573.5,387.5h0M568.9,394.3h0M576.7,422.3h0M576.3,373.3h0M571.4,393.0h0M575.1,387.6h0M576.9,377.7h0M574.0,332.5h0M570.3,398.1h0M568.2,329.0h0M579.2,413.3h0M567.9,396.9h0M569.5,413.2h0M577.9,402.0h0M567.3,333.5h0M568.7,294.8h0M572.0,395.6h0M568.8,407.5h0M567.2,404.9h0M577.8,334.2h0M569.1,397.9h0M579.8,411.9h0M567.3,349.9h0M570.6,392.8h0M574.9,398.6h0M568.1,333.6h0M573.5,366.0h0M573.6,424.2h0"/>
<path stroke="#b0223a" d="M648.9,256.6h0M653.6,259.8h0M646.1,262.6h0M653.4,265.4h0M643.4,267.4h0M649.7,268.6h0M646.4,294.5h0M651.4,408.1h0M647.8,273.1h0M652.6,325.9h0M642.5,421.4h0M644.0,333.0h0M648.1,424.5h0M649.4,273.4h0M645.7,305.3h0M651.8,381.6h0M645.7,289.4h0M653.7,289.9h0M653.7,300.5h0M640.8,403.5h0M649.5,418.2h0M652.7,283.9h0M641.0,281.0h0M650.9,388.2h0M648.7,379.9h0M647.7,375.5h0M644.2,398.4h0M650.8,276.8h0M643.4,334.5h0M642.9,299.4h0M645.3,316.0h0M654.6,418.5h0M646.1,420.0h0M642.3,413.0h0M646.0,345.2h0M651.3,311.6h0M649.2,272.1h0M650.6,279.9h0M652.2,295.8h0M644.4,380.6h0M645.2,388.4h0M652.6,300.9h0M645.8,388.2h0M647.6,292.9h0M652.3,297.1h0M649.3,415.7h0M653.4,288.9h0M640.4,418.2h0M649.2,392.7h0M647.6,273.8h0M646.2,307.6h0M644.5,283.9h0M645.7,277.7h0M652.0,399.9h0M647.1,289.7h0M643.4,383.1h0M650.3,420.7h0M652.1,416.9h0M646.1,415.1h0M642.1,310.9h0M651.0,309.2h0M650.2,284.7h0M650.3,395.9h0M640.4,293.2h0M642.0,399.7h0M654.2,393.3h0M648.2,306.8h0M644.0,378.4h0M640.9,272.0h0M647.1,392.9h0M644.9,403.2h0M642.5,281.8h0M649.4,282.4h0M642.8,411.4h0M653.9,389.6h0M643.6,341.0h0M653.1,420.6h0M645.4,383.4h0M644.5,292.4h0M651.2,292.6h0M647.5,412.9h0M642.3,394.8h0M652.4,399.5h0M648.2,302.6h0M648.4,414.5h0M645.7,272.9h0M652.2,416.1h0M649.1,335.4h0M641.3,300.1h0M653.0,275.9h0M648.4,314.2h0M644.2,284.0h0M640.8,334.7h0M640.8,405.2h0M642.0,370.2h0M643.9,315.7h0M647.9,334.7h0M643.5,291.1h0M651.6,332.2h0M647.8,380.6h0M646.4,339.5h0M646.4,338.1h0M643.7,425.2h0M648.0,391.1h0M643.6,323.4h0M644.9,299.0h0M647.6,368.1h0M649.4,295.0h0M645.0,343.1h0M650.7,383.7h0M645.4,402.7h0M653.5,289.5h0M642.4,278.1h0M648.6,297.0h0M645.4,405.2h0M646.8,299.8h0M641.9,342.6h0M645.1,277.9h0M643.0,425.4h0M650.0,292.1h0M651.4,355.2h0M651.6,283.9h0M653.4,315.9h0M645.8,425.4h0M649.5,301.7h0M654.0,334.1h0M647.4,403.0h0M647.7,415.5h0M649.7,376.9h0M640.7,326.4h0M652.5,351.2h0M646.2,424.6h0M651.1,413.0h0M642.1,303.1h0M647.3,330.5h0M648.5,295.4h0M651.4,372.2h0M648.9,400.9h0M649.2,289.5h0M653.6,405.5h0M644.1,421.0h0M646.7,383.9h0M653.0,360.2h0M646.8,406.5h0M648.8,275.3h0M647.5,403.9h0M654.3,415.5h0M650.0,305.9h0M651.4,413.4h0M640.7,398.0h0M645.9,372.4h0M651.0,398.8h0M642.7,307.2h0M651.5,413.7h0M653.5,308.7h0M651.2,416.1h0M650.7,321.6h0M644.2,273.5h0M642.0,290.6h0M653.8,276.1h0M646.3,330.4h0M653.3,411.9h0M649.9,383.5h0M653.7,291.7h0M640.6,414.5h0M651.8,305.6h0M650.9,392.0h0M648.4,278.5h0M642.6,387.3h0M643.2,392.0h0M653.7,399.0h0M645.9,332.1h0M651.1,275.6h0M654.3,332.0h0M643.5,295.6h0M641.2,337.8h0M640.7,419.1h0M646.5,320.1h0M652.1,318.4h0M651.8,317.9h0M648.8,395.5h0M640.3,399.7h0M643.8,390.9h0M642.4,423.5h0M642.5,411.6h0M642.1,397.0h0M640.7,340.3h0M647.5,279.0h0M645.2,300.5h0M645.3,339.2h0M644.2,298.5h0M651.7,362.5h0M644.4,422.2h0M642.5,302.4h0M644.3,299.9h0M643.8,306.9h0M645.2,284.2h0M645.7,291.2h0M643.5,286.4h0M649.3,422.3h0M642.5,271.8h0M653.4,319.7h0M653.0,318.7h0M647.4,314.4h0M650.8,399.3h0M643.3,394.8h0M644.4,282.0h0M653.4,317.1h0M647.1,275.0h0M650.9,406.6h0M652.0,320.4h0M650.4,317.1h0M646.8,423.0h0M645.7,311.9h0M641.1,380.4h0M652.7,367.3h0M650.2,409.1h0M641.1,318.3h0M652.3,304.2h0M644.3,280.7h0M652.5,285.2h0M642.4,273.4h0M640.5,273.7h0M652.6,300.5h0M653.1,397.9h0M647.4,332.1h0M653.4,419.0h0M641.5,325.0h0M642.4,394.5h0M654.3,333.1h0M653.8,294.6h0M650.3,421.0h0M645.1,282.1h0M650.5,422.9h0M640.2,347.4h0M645.4,405.4h0M652.5,422.9h0M643.5,350.7h0M642.1,400.3h0M647.3,419.4h0M650.0,286.9h0M644.7,402.3h0M652.0,276.8h0M653.3,315.3h0M643.4,386.5h0M645.8,421.0h0M652.3,284.0h0M647.5,416.7h0M651.0,291.7h0M644.8,335.4h0M652.0,358.8h0M652.3,419.3h0M651.4,370.4h0M652.9,424.7h0M645.9,293.1h0M647.7,299.7h0M651.9,414.1h0M650.7,341.2h0M648.0,409.9h0M640.7,299.1h0M643.4,408.7h0M646.8,410.4h0M651.1,397.4h0M653.3,274.1h0M654.5,287.4h0M645.8,375.5h0M654.2,289.8h0M645.7,385.3h0M642.9,408.9h0M653.6,280.2h0M641.8,423.1h0M647.1,290.0h0M651.4,275.0h0M649.3,419.0h0M652.5,283.6h0M647.9,291.3h0M646.7,422.6h0M645.1,362.6h0M649.2,400.5h0M648.4,380.4h0M647.6,381.0h0M650.1,377.9h0M647.5,425.2h0M650.3,399.1h0M647.5,396.6h0M651.4,307.9h0M643.2,301.1h0M645.4,294.5h0M644.6,310.0h0M652.9,280.5h0M648.6,327.7h0M653.8,393.3h0M648.3,422.8h0M653.8,297.3h0M650.9,326.0h0M653.1,411.4h0M644.5,340.6h0M654.6,276.3h0M644.6,316.0h0M651.1,394.0h0M649.2,288.6h0M645.4,377.8h0M641.7,424.8h0M640.9,419.4h0M640.4,274.9h0M648.2,418.1h0M648.3,291.0h0M641.8,423.5h0M640.8,369.3h0M640.5,397.7h0M648.6,388.5h0M651.1,418.4h0M653.2,375.9h0M647.0,293.6h0M651.0,336.5h0M643.7,414.5h0M640.9,288.7h0M648.6,282.5h0M644.9,358.6h0M646.0,385.7h0M641.9,424.6h0M650.2,420.2h0M653.0,382.5h0M651.0,416.3h0M642.2,274.2h0M644.2,308.7h0M643.1,393.4h0M654.5,320.5h0M645.9,410.9h0M642.4,278.5h0M652.0,343.9h0M643.3,300.6h0M641.4,409.4h0M645.6,352.7h0M640.8,298.8h0M646.9,379.7h0M646.5,420.7h0M644.7,354.3h0M648.3,286.9h0M651.6,356.6h0M645.2,273.4h0M644.2,326.8h0M649.4,281.5h0M646.3,423.4h0M644.0,311.0h0M653.9,340.9h0M643.3,386.0h0M646.0,279.8h0M644.4,418.3h0M651.9,348.7h0M649.8,394.3h0M653.4,275.0h0M644.1,291.2h0M652.2,407.4h0M649.9,414.9h0M641.9,424.1h0M643.9,409.7h0M652.4,277.5h0M646.5,282.4h0M642.6,289.3h0M642.1,376.3h0M644.4,350.0h0M649.6,322.8h0M642.2,288.3h0M642.5,425.4h0M652.6,409.5h0M644.0,321.3h0M650.1,413.6h0M652.3,276.8h0M651.0,422.4h0M649.3,273.9h0M646.7,405.9h0M650.4,408.2h0M645.5,369.1h0M651.3,309.8h0M650.3,273.4h0M641.9,351.9h0M640.3,280.2h0M649.8,280.8h0M647.1,273.0h0M649.0,385.6h0M649.8,352.5h0M647.0,424.3h0M642.1,380.5h0M648.6,386.8h0M644.4,415.3h0M647.5,286.1h0M640.6,398.1h0M654.1,414.6h0M642.9,416.1h0M654.6,424.0h0M651.7,294.0h0M645.8,334.4h0M648.4,336.9h0M643.4,372.4h0M640.4,274.7h0M647.4,381.9h0M641.2,352.4h0M642.8,301.9h0M641.2,277.5h0M648.2,283.7h0M649.9,281.6h0M654.1,409.3h0M643.8,276.2h0M652.3,286.9h0M648.7,390.8h0M640.4,288.7h0M645.5,275.6h0M654.4,295.3h0M650.8,295.9h0M649.9,285.5h0M650.3,281.9h0M654.1,291.2h0M648.0,419.6h0M642.2,406.5h0M641.0,415.6h0M648.4,355.3h0M642.8,420.6h0M653.7,329.2h0M654.3,277.9h0M648.4,273.3h0M649.1,423.0h0M642.1,302.9h0M652.0,413.4h0M646.4,283.3h0M651.1,423.5h0M646.4,417.2h0M651.8,391.8h0M642.0,425.4h0M654.3,305.9h0M650.1,406.9h0M645.2,298.1h0M646.2,275.8h0M643.3,353.9h0M647.6,353.9h0M653.2,272.1h0M647.1,393.3h0M645.0,281.2h0M646.9,298.9h0M646.2,425.3h0M646.4,395.6h0M647.7,298.0h0M650.6,422.4h0M650.6,283.8h0M640.6,278.9h0M653.8,293.5h0M645.3,288.2h0M646.6,317.7h0M647.7,288.4h0M653.3,354.8h0M640.8,374.1h0M652.4,300.2h0M650.0,355.5h0M648.0,393.7h0M646.1,399.9h0M648.0,364.9h0M650.4,381.0h0M646.8,294.1h0M653.6,290.9h0M648.4,289.5h0M646.9,284.9h0M653.4,385.1h0M640.6,383.7h0M653.3,285.6h0M647.3,409.7h0M642.2,300.3h0M650.3,336.6h0M643.9,305.2h0M647.2,301.0h0M648.0,304.8h0M654.2,403.5h0M650.1,424.1h0M646.8,275.6h0M649.6,280.2h0M649.7,342.7h0M642.4,306.0h0M645.8,418.4h0M642.8,357.9h0M641.9,319.8h0M645.0,300.6h0M640.8,405.4h0M642.9,418.2h0M642.9,274.9h0M648.1,284.6h0M646.4,409.8h0M641.8,287.0h0M654.6,288.0h0M651.1,409.5h0M650.1,288.8h0M649.6,380.9h0M650.8,390.1h0M643.1,411.7h0M650.8,319.0h0M645.6,314.4h0M643.2,340.6h0M644.5,417.6h0M652.2,289.7h0M646.2,392.8h0M652.9,400.0h0M654.6,309.2h0M653.8,409.2h0M647.2,279.1h0M648.4,308.1h0M649.0,290.4h0M641.6,389.0h0M651.2,367.8h0M651.9,401.6h0M643.2,401.6h0M645.2,372.1h0M649.4,290.6h0M654.0,343.2h0M645.4,286.0h0M652.9,416.5h0M641.2,396.7h0M648.2,423.1h0M644.6,278.9h0M652.7,420.8h0M643.0,331.5h0M641.6,304.2h0M645.8,407.0h0M651.2,273.4h0M650.9,273.3h0M645.2,403.1h0M650.8,413.8h0M642.4,307.8h0M646.7,339.6h0M652.9,316.2h0M642.6,313.4h0M643.7,275.3h0M645.5,292.6h0M643.3,393.4h0M647.9,294.9h0M646.3,360.9h0M648.8,273.7h0M640.5,351.5h0M652.0,425.1h0M646.0,278.5h0M641.2,398.4h0M649.2,287.1h0M642.8,314.7h0M643.4,295.2h0M651.2,295.9h0M641.3,279.5h0M653.9,286.0h0M643.8,308.5h0M649.0,391.3h0M642.0,346.1h0M654.7,398.1h0M654.0,389.7h0M649.7,357.1h0M644.1,369.5h0M645.5,396.7h0M648.6,394.6h0M644.3,393.6h0M648.7,408.4h0M653.3,321.0h0M642.4,418.2h0M644.2,402.0h0M654.1,410.6h0M652.7,299.7h0M640.7,398.0h0M641.7,417.6h0M649.6,287.2h0M652.3,364.7h0M654.4,288.8h0M642.1,392.2h0M647.1,388.0h0M647.6,326.9h0M652.6,420.3h0M647.3,273.6h0M640.8,414.4h0M641.3,278.9h0M647.5,306.3h0M642.2,293.0h0M647.6,406.4h0M648.7,280.7h0M647.6,333.3h0M648.6,372.6h0M640.5,408.3h0M650.3,410.6h0M640.8,283.3h0M647.5,274.2h0M642.4,371.0h0M646.1,297.7h0M651.9,300.8h0M652.4,346.1h0M653.0,350.5h0M650.3,328.5h0M647.9,388.0h0M651.8,295.1h0M641.2,371.1h0M640.7,342.7h0M653.0,409.5h0M650.7,273.7h0M646.4,419.6h0M643.9,298.5h0M654.3,306.1h0M643.3,388.4h0M643.9,273.7h0M653.9,423.1h0M651.2,398.9h0M652.5,389.5h0M653.8,309.1h0M654.1,319.3h0M645.9,299.1h0M643.8,283.5h0M648.4,424.5h0M645.8,326.5h0M645.1,376.1h0M648.6,302.0h0M653.2,335.9h0M648.1,387.7h0M645.1,425.4h0M643.0,393.7h0M652.3,362.0h0M649.4,389.6h0M643.4,381.6h0M652.0,307.6h0M641.4,389.9h0M641.5,284.4h0M644.5,385.3h0M651.6,365.8h0M647.8,366.2h0M650.2,279.7h0M653.3,316.1h0M654.5,274.6h0M652.4,425.4h0M646.6,275.4h0M648.1,408.1h0M640.3,280.2h0M641.4,422.4h0M646.6,283.9h0M644.9,310.7h0M647.8,302.5h0M640.3,378.7h0M653.9,379.5h0M647.2,412.1h0M642.6,413.7h0M649.5,312.3h0M648.6,388.8h0M650.5,423.7h0M654.5,410.8h0M646.6,410.7h0M640.2,408.2h0M643.1,359.3h0M646.1,279.1h0M643.9,321.2h0M647.3,295.7h0M649.4,417.0h0M647.8,301.6h0M641.0,283.1h0M640.6,272.2h0M640.6,299.0h0M650.1,315.6h0M646.1,274.8h0M648.2,414.8h0M646.0,290.0h0M650.2,298.1h0M654.5,297.3h0M649.1,386.6h0M643.2,419.4h0M650.7,413.6h0M643.3,303.7h0M650.2,393.5h0M648.5,275.9h0M640.4,415.5h0M643.0,287.9h0M643.5,351.6h0M645.7,396.1h0M653.0,401.2h0M650.5,386.8h0M647.2,384.0h0M646.1,404.6h0M640.7,405.4h0M643.4,274.1h0M652.9,370.1h0M645.7,312.5h0M644.2,300.2h0M653.8,390.5h0M643.4,277.0h0M651.8,396.1h0M645.7,408.4h0M645.5,422.4h0M645.1,400.2h0M644.1,421.0h0M644.0,311.6h0M644.3,322.8h0M646.9,424.2h0M646.6,275.8h0M640.5,297.0h0M645.9,329.3h0M652.1,276.2h0M651.1,335.1h0M642.1,410.1h0M643.2,291.4h0M649.3,275.4h0M649.3,421.1h0M641.0,343.0h0M644.7,404.5h0M647.6,279.6h0M650.1,417.9h0M648.4,288.6h0M649.5,406.8h0M653.0,309.2h0M652.9,301.6h0M643.1,293.4h0M652.8,421.7h0M643.3,349.6h0M640.3,415.1h0M651.5,415.0h0M653.3,411.5h0M641.7,413.0h0M651.1,277.0h0M641.4,326.5h0M653.5,401.3h0M646.9,348.8h0M647.3,421.5h0M653.4,405.7h0M644.6,311.7h0M648.0,301.3h0M641.7,313.9h0M642.8,273.0h0M648.0,273.4h0M652.7,286.0h0M645.6,355.4h0M640.3,293.8h0M643.6,401.8h0M647.4,283.1h0M641.2,402.5h0M642.3,272.5h0M643.5,424.9h0M652.4,289.7h0M646.4,344.0h0M642.2,287.7h0M648.0,337.6h0M648.5,286.0h0M649.1,299.5h0M650.9,309.6h0M648.4,275.7h0M641.0,415.9h0M648.8,277.8h0M649.0,337.4h0M647.5,299.6h0M642.3,304.9h0M643.2,378.6h0M649.3,336.0h0M651.4,274.0h0M641.3,347.9h0M651.2,278.6h0M646.7,425.3h0M649.3,323.1h0M651.6,302.0h0M641.4,377.7h0M650.8,419.2h0M651.0,290.1h0M647.0,294.3h0M644.0,381.1h0M648.5,417.8h0M648.7,285.4h0M646.1,291.8h0M647.8,285.9h0M650.9,287.4h0M651.7,400.1h0M653.9,312.2h0M654.3,355.4h0M640.6,378.9h0M653.3,373.5h0M653.0,304.2h0M654.6,271.9h0M651.7,353.1h0M653.9,384.3h0M654.4,311.6h0M642.2,311.3h0M642.0,374.4h0M648.3,308.4h0M653.5,306.7h0M647.9,295.0h0M647.6,411.0h0M652.6,307.4h0M648.7,371.2h0M652.1,281.8h0M649.0,313.4h0M647.7,288.2h0M647.4,288.2h0M651.7,406.1h0M642.0,419.6h0M645.1,293.5h0M641.6,421.5h0M649.7,276.0h0M646.1,301.8h0M653.2,369.4h0M645.2,304.7h0M653.5,414.5h0M644.7,309.8h0M653.9,278.3h0M653.2,425.4h0M644.4,276.8h0M647.9,393.7h0M641.3,377.2h0M649.2,276.7h0"/>
</g>
<path d="M58.5,24.2H279.2V465.25H58.5ZM316.2,24.2H684.2V465.25H316.2ZM53.1,425.4H58.5M310.8,425.4H316.2M53.1,345.1H58.5M310.8,345.1H316.2M53.1,264.9H58.5M310.8,264.9H316.2M53.1,184.6H58.5M310.8,184.6H316.2M53.1,104.4H58.5M310.8,104.4H316.2M53.1,24.1H58.5M310.8,24.1H316.2M113.7,465.25v5.6M224.0,465.25v5.6M353.0,465.25v5.6M426.6,465.25v5.6M500.2,465.25v5.6M573.9,465.25v5.6M647.5,465.25v5.6" stroke="#000" stroke-width="1.25" fill="none"/>
<g font-family="Liberation Sans, sans-serif" fill="#000" opacity="0.999" stroke="#000" stroke-width="0.3">
<text x="47.3" y="431.1" font-size="15.6" text-anchor="end" textLength="24.3" lengthAdjust="spacingAndGlyphs">0.0</text>
<text x="47.3" y="350.8" font-size="15.6" text-anchor="end" textLength="24.3" lengthAdjust="spacingAndGlyphs">0.2</text>
<text x="47.3" y="270.6" font-size="15.6" text-anchor="end" textLength="24.3" lengthAdjust="spacingAndGlyphs">0.4</text>
<text x="47.3" y="190.3" font-size="15.6" text-anchor="end" textLength="24.3" lengthAdjust="spacingAndGlyphs">0.6</text>
<text x="47.3" y="110.1" font-size="15.6" text-anchor="end" textLength="24.3" lengthAdjust="spacingAndGlyphs">0.8</text>
<text x="47.3" y="29.8" font-size="15.6" text-anchor="end" textLength="24.3" lengthAdjust="spacingAndGlyphs">1.0</text>
<text transform="translate(12.8,245) rotate(-90)" font-size="15.8" text-anchor="middle" textLength="62" lengthAdjust="spacingAndGlyphs">Overlap</text>
<text x="67.3" y="14.1" font-size="19.3" textLength="26" lengthAdjust="spacingAndGlyphs">(a)</text>
<text x="339.6" y="14.1" font-size="19.3" textLength="26" lengthAdjust="spacingAndGlyphs">(b)</text>
<path d="M100.9,476.7V493M123.2,477L126.0,483.8L123.2,490.8" stroke="#000" stroke-width="1.4" fill="none"/><text x="104.0" y="488.9" font-size="17" font-style="italic">u</text><text x="114.2" y="491.6" font-size="11.7">1</text>
<path d="M211.2,476.7V493M233.6,477L236.3,483.8L233.6,490.8" stroke="#000" stroke-width="1.4" fill="none"/><text x="214.3" y="488.9" font-size="17" font-style="italic">u</text><text x="224.6" y="491.6" font-size="11.7">2</text>
<path d="M341.3,476.7V493M362.8,477L365.5,483.8L362.8,490.8" stroke="#000" stroke-width="1.4" fill="none"/><text x="344.5" y="488.9" font-size="17" font-style="italic">v</text><text x="353.9" y="491.6" font-size="11.7">1</text>
<path d="M414.9,476.7V493M436.4,477L439.1,483.8L436.4,490.8" stroke="#000" stroke-width="1.4" fill="none"/><text x="418.1" y="488.9" font-size="17" font-style="italic">v</text><text x="427.5" y="491.6" font-size="11.7">2</text>
<path d="M488.5,476.7V493M510.0,477L512.7,483.8L510.0,490.8" stroke="#000" stroke-width="1.4" fill="none"/><text x="491.7" y="488.9" font-size="17" font-style="italic">v</text><text x="501.1" y="491.6" font-size="11.7">3</text>
<path d="M562.2,476.7V493M583.7,477L586.4,483.8L583.7,490.8" stroke="#000" stroke-width="1.4" fill="none"/><text x="565.4" y="488.9" font-size="17" font-style="italic">v</text><text x="574.8" y="491.6" font-size="11.7">4</text>
<path d="M635.8,476.7V493M657.3,477L660.0,483.8L657.3,490.8" stroke="#000" stroke-width="1.4" fill="none"/><text x="639.0" y="488.9" font-size="17" font-style="italic">v</text><text x="648.4" y="491.6" font-size="11.7">5</text>
</g>
</svg></body></html>
